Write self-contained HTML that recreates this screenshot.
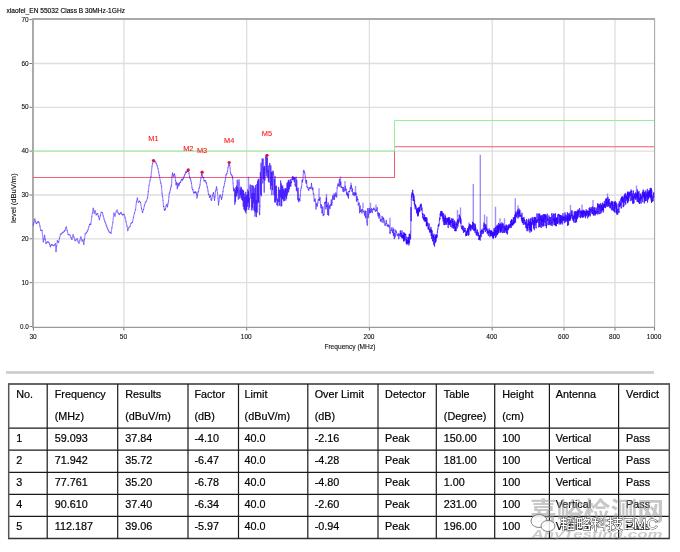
<!DOCTYPE html>
<html><head><meta charset="utf-8"><title>EMC Radiated Emission</title>
<style>html,body{margin:0;padding:0;background:#fff;}body{width:680px;height:552px;position:relative;overflow:hidden;}</style>
</head><body>
<svg width="680" height="552" viewBox="0 0 680 552" style="position:absolute;left:0;top:0">
<text x="6.5" y="12.6" font-size="7.7" fill="#000" stroke="#000" stroke-width="0.15" font-family="Liberation Sans, sans-serif" textLength="118.5" lengthAdjust="spacingAndGlyphs">xiaofei_EN 55032 Class B 30MHz-1GHz</text>
<line x1="33" y1="282.7" x2="654" y2="282.7" stroke="#dedede" stroke-width="1.3"/>
<line x1="33" y1="238.8" x2="654" y2="238.8" stroke="#dedede" stroke-width="1.3"/>
<line x1="33" y1="195.0" x2="654" y2="195.0" stroke="#dedede" stroke-width="1.3"/>
<line x1="33" y1="151.1" x2="654" y2="151.1" stroke="#dedede" stroke-width="1.3"/>
<line x1="33" y1="107.3" x2="654" y2="107.3" stroke="#dedede" stroke-width="1.3"/>
<line x1="33" y1="63.5" x2="654" y2="63.5" stroke="#dedede" stroke-width="1.3"/>
<line x1="123.9" y1="19" x2="123.9" y2="327" stroke="#dedede" stroke-width="1.3"/>
<line x1="246.7" y1="19" x2="246.7" y2="327" stroke="#dedede" stroke-width="1.3"/>
<line x1="369.4" y1="19" x2="369.4" y2="327" stroke="#dedede" stroke-width="1.3"/>
<line x1="492.2" y1="19" x2="492.2" y2="327" stroke="#dedede" stroke-width="1.3"/>
<line x1="564.0" y1="19" x2="564.0" y2="327" stroke="#dedede" stroke-width="1.3"/>
<line x1="615.0" y1="19" x2="615.0" y2="327" stroke="#dedede" stroke-width="1.3"/>
<line x1="32.5" y1="19.1" x2="655" y2="19.1" stroke="#8c8c8c" stroke-width="1.5"/>
<line x1="654.6" y1="19" x2="654.6" y2="327.5" stroke="#a8a8a8" stroke-width="1.1"/>
<line x1="33" y1="18.5" x2="33" y2="328" stroke="#9c9c9c" stroke-width="1.7"/>
<line x1="32" y1="327.4" x2="655" y2="327.4" stroke="#9a9a9a" stroke-width="1.1"/>
<line x1="29.5" y1="19.6" x2="32" y2="19.6" stroke="#777" stroke-width="1"/>
<text x="21.5" y="21.6" font-size="7.7" fill="#111" stroke="#111" stroke-width="0.12" font-family="Liberation Sans, sans-serif" textLength="7.2" lengthAdjust="spacingAndGlyphs">70</text>
<line x1="29.5" y1="63.5" x2="32" y2="63.5" stroke="#777" stroke-width="1"/>
<text x="21.5" y="65.5" font-size="7.7" fill="#111" stroke="#111" stroke-width="0.12" font-family="Liberation Sans, sans-serif" textLength="7.2" lengthAdjust="spacingAndGlyphs">60</text>
<line x1="29.5" y1="107.3" x2="32" y2="107.3" stroke="#777" stroke-width="1"/>
<text x="21.5" y="109.3" font-size="7.7" fill="#111" stroke="#111" stroke-width="0.12" font-family="Liberation Sans, sans-serif" textLength="7.2" lengthAdjust="spacingAndGlyphs">50</text>
<line x1="29.5" y1="151.1" x2="32" y2="151.1" stroke="#777" stroke-width="1"/>
<text x="21.5" y="153.1" font-size="7.7" fill="#111" stroke="#111" stroke-width="0.12" font-family="Liberation Sans, sans-serif" textLength="7.2" lengthAdjust="spacingAndGlyphs">40</text>
<line x1="29.5" y1="195.0" x2="32" y2="195.0" stroke="#777" stroke-width="1"/>
<text x="21.5" y="197.0" font-size="7.7" fill="#111" stroke="#111" stroke-width="0.12" font-family="Liberation Sans, sans-serif" textLength="7.2" lengthAdjust="spacingAndGlyphs">30</text>
<line x1="29.5" y1="238.8" x2="32" y2="238.8" stroke="#777" stroke-width="1"/>
<text x="21.5" y="240.8" font-size="7.7" fill="#111" stroke="#111" stroke-width="0.12" font-family="Liberation Sans, sans-serif" textLength="7.2" lengthAdjust="spacingAndGlyphs">20</text>
<line x1="29.5" y1="282.7" x2="32" y2="282.7" stroke="#777" stroke-width="1"/>
<text x="21.5" y="284.7" font-size="7.7" fill="#111" stroke="#111" stroke-width="0.12" font-family="Liberation Sans, sans-serif" textLength="7.2" lengthAdjust="spacingAndGlyphs">10</text>
<line x1="29.5" y1="326.5" x2="32" y2="326.5" stroke="#777" stroke-width="1"/>
<text x="19.9" y="328.5" font-size="7.7" fill="#111" stroke="#111" stroke-width="0.12" font-family="Liberation Sans, sans-serif" textLength="8.8" lengthAdjust="spacingAndGlyphs">0.0</text>
<line x1="33.4" y1="328" x2="33.4" y2="330.5" stroke="#777" stroke-width="1"/>
<text x="29.4" y="338.7" font-size="7.7" fill="#111" stroke="#111" stroke-width="0.12" font-family="Liberation Sans, sans-serif" textLength="7.3" lengthAdjust="spacingAndGlyphs">30</text>
<line x1="123.9" y1="328" x2="123.9" y2="330.5" stroke="#777" stroke-width="1"/>
<text x="119.8" y="338.7" font-size="7.7" fill="#111" stroke="#111" stroke-width="0.12" font-family="Liberation Sans, sans-serif" textLength="7.3" lengthAdjust="spacingAndGlyphs">50</text>
<line x1="246.7" y1="328" x2="246.7" y2="330.5" stroke="#777" stroke-width="1"/>
<text x="240.8" y="338.7" font-size="7.7" fill="#111" stroke="#111" stroke-width="0.12" font-family="Liberation Sans, sans-serif" textLength="10.9" lengthAdjust="spacingAndGlyphs">100</text>
<line x1="369.4" y1="328" x2="369.4" y2="330.5" stroke="#777" stroke-width="1"/>
<text x="363.6" y="338.7" font-size="7.7" fill="#111" stroke="#111" stroke-width="0.12" font-family="Liberation Sans, sans-serif" textLength="10.9" lengthAdjust="spacingAndGlyphs">200</text>
<line x1="492.2" y1="328" x2="492.2" y2="330.5" stroke="#777" stroke-width="1"/>
<text x="486.3" y="338.7" font-size="7.7" fill="#111" stroke="#111" stroke-width="0.12" font-family="Liberation Sans, sans-serif" textLength="10.9" lengthAdjust="spacingAndGlyphs">400</text>
<line x1="564.0" y1="328" x2="564.0" y2="330.5" stroke="#777" stroke-width="1"/>
<text x="558.1" y="338.7" font-size="7.7" fill="#111" stroke="#111" stroke-width="0.12" font-family="Liberation Sans, sans-serif" textLength="10.9" lengthAdjust="spacingAndGlyphs">600</text>
<line x1="615.0" y1="328" x2="615.0" y2="330.5" stroke="#777" stroke-width="1"/>
<text x="609.1" y="338.7" font-size="7.7" fill="#111" stroke="#111" stroke-width="0.12" font-family="Liberation Sans, sans-serif" textLength="10.9" lengthAdjust="spacingAndGlyphs">800</text>
<line x1="654.5" y1="328" x2="654.5" y2="330.5" stroke="#777" stroke-width="1"/>
<text x="646.8" y="338.7" font-size="7.7" fill="#111" stroke="#111" stroke-width="0.12" font-family="Liberation Sans, sans-serif" textLength="14.6" lengthAdjust="spacingAndGlyphs">1000</text>
<text x="324.4" y="349.4" font-size="7.5" fill="#111" stroke="#111" stroke-width="0.12" font-family="Liberation Sans, sans-serif" textLength="51" lengthAdjust="spacingAndGlyphs">Frequency (MHz)</text>
<text transform="translate(16.4,223) rotate(-90)" x="0" y="0" font-size="7.5" fill="#111" stroke="#111" stroke-width="0.12" font-family="Liberation Sans, sans-serif" textLength="49.7" lengthAdjust="spacingAndGlyphs">level (dBuV/m)</text>
<polyline points="33,177.4 394.5,177.4 394.5,146.8 654,146.8" fill="none" stroke="#f45c78" stroke-width="1.05"/>
<polyline points="33,151.1 394.5,151.1 394.5,120.5 654,120.5" fill="none" stroke="#94f094" stroke-width="1.0"/>
<path d="M33.20,225.5L34.00,222.2M39.10,222.7L39.95,226.2M45.25,239.3L45.90,243.4M50.95,245.4L51.60,244.4M57.30,240.7L57.95,241.8M63.60,232.0L64.25,231.2M70.00,235.3L70.95,237.4M78.00,241.2L79.00,243.2M85.20,233.9L85.95,233.1M90.80,224.4L91.80,216.5M97.60,213.5L98.50,216.5M104.82,221.5L105.55,223.0M111.00,233.4L111.90,227.8M118.75,213.7L119.50,214.5M125.00,217.5L126.00,221.7M132.50,222.1L133.50,217.2M140.50,202.4L141.50,208.4M148.30,191.6L149.00,185.5M155.00,161.4L155.75,162.2M161.00,183.5L161.50,186.4M164.70,210.2L165.10,209.6M168.50,201.4L168.90,197.0M172.00,176.3L172.50,172.8M176.00,184.8L176.50,182.3M179.15,184.7L179.50,183.5M182.50,180.2L183.00,178.9M186.50,172.6L187.00,170.9M190.50,179.1L191.00,181.2M194.50,192.5L195.00,191.7M198.50,191.4L199.00,188.3M202.15,174.9L202.50,176.2M206.00,182.8L206.50,182.9M210.00,196.3L210.50,195.4M214.00,196.7L214.50,200.4M218.00,198.5L218.50,205.0M222.00,197.7L222.50,194.8M226.00,175.2L226.50,174.2M229.63,165.4L230.07,168.0" fill="none" stroke="#3000ff" stroke-opacity="0.46" stroke-width="1.15" stroke-linecap="round"/>
<path d="M34.00,222.2L34.80,219.0M39.95,226.2L40.80,230.4M45.90,243.4L46.50,243.0M51.60,244.4L52.55,244.9M57.95,241.8L58.60,242.4M64.25,231.2L64.90,230.5M70.95,237.4L71.90,239.4M79.00,243.2L79.95,240.2M85.95,233.1L86.70,232.3M91.80,216.5L92.50,212.5M98.50,216.5L99.40,219.7M105.55,223.0L106.28,225.2M111.90,227.8L112.80,222.5M119.50,214.5L120.25,213.4M126.00,221.7L127.00,226.1M133.50,217.2L134.50,212.9M141.50,208.4L142.50,212.5M149.00,185.5L150.00,180.7M155.75,162.2L156.50,163.7M161.50,186.4L162.00,193.1M165.10,209.6L165.50,208.8M168.90,197.0L169.30,193.4M172.50,172.8L173.00,175.1M176.50,182.3L176.90,184.2M179.50,183.5L179.90,182.5M183.00,178.9L183.50,178.3M187.00,170.9L187.50,171.3M191.00,181.2L191.50,183.4M195.00,191.7L195.50,192.7M199.00,188.3L199.50,187.2M202.50,176.2L203.00,177.5M206.50,182.9L207.00,186.4M210.50,195.4L211.00,199.7M214.50,200.4L215.00,196.9M218.50,205.0L219.00,201.0M222.50,194.8L223.00,191.3M226.50,174.2L227.00,173.4M230.07,168.0L230.50,172.6" fill="none" stroke="#3000ff" stroke-opacity="0.46" stroke-width="1.15" stroke-linecap="round"/>
<path d="M34.80,219.0L35.55,221.7M40.80,230.4L41.45,230.3M46.50,243.0L47.10,242.1M52.55,244.9L53.50,245.7M58.60,242.4L59.55,238.2M64.90,230.5L65.55,228.9M71.90,239.4L73.10,234.7M79.95,240.2L80.90,236.9M86.70,232.3L87.40,231.1M92.50,212.5L93.20,208.2M99.40,219.7L100.30,215.7M106.28,225.2L107.00,227.2M112.80,222.5L113.90,213.1M120.25,213.4L121.00,212.4M127.00,226.1L127.80,230.6M134.50,212.9L135.50,209.6M142.50,212.5L143.50,209.5M150.00,180.7L151.00,176.4M156.50,163.7L157.25,165.9M162.00,193.1L162.50,196.4M165.50,208.8L166.00,206.0M169.30,193.4L169.80,192.2M173.00,175.1L173.50,176.3M176.90,184.2L177.30,188.7M179.90,182.5L180.30,182.5M183.50,178.3L184.00,176.8M187.50,171.3L188.00,171.0M191.50,183.4L192.00,187.6M195.50,192.7L196.00,192.1M199.50,187.2L200.00,184.8M203.00,177.5L203.50,177.6M207.00,186.4L207.50,187.6M211.00,199.7L211.50,200.3M215.00,196.9L215.50,191.1M219.00,201.0L219.50,196.9M223.00,191.3L223.50,187.5M227.00,173.4L227.50,171.3M230.50,172.6L231.00,174.3" fill="none" stroke="#3000ff" stroke-opacity="0.46" stroke-width="1.15" stroke-linecap="round"/>
<path d="M35.55,221.7L36.30,223.7M41.45,230.3L42.10,230.6M47.10,242.1L47.95,241.9M53.50,245.7L54.45,245.1M59.55,238.2L60.50,234.2M65.55,228.9L66.20,226.9M73.10,234.7L74.05,237.3M80.90,236.9L82.10,241.1M87.40,231.1L88.10,229.7M93.20,208.2L94.20,213.3M100.30,215.7L101.20,212.2M107.00,227.2L107.73,228.9M113.90,213.1L115.00,216.2M121.00,212.4L121.75,214.0M127.80,230.6L128.80,227.7M135.50,209.6L136.50,201.6M143.50,209.5L144.50,205.3M151.00,176.4L152.00,166.4M157.25,165.9L158.00,168.6M162.50,196.4L163.00,200.3M166.00,206.0L166.50,204.7M169.80,192.2L170.30,190.0M173.50,176.3L174.00,174.7M177.30,188.7L177.65,186.2M180.30,182.5L180.65,182.1M184.00,176.8L184.50,175.3M188.00,171.0L188.50,171.4M192.00,187.6L192.50,189.5M196.00,192.1L196.50,193.6M200.00,184.8L200.50,180.5M203.50,177.6L204.00,181.0M207.50,187.6L208.00,190.9M211.50,200.3L212.00,198.0M215.50,191.1L216.00,190.0M219.50,196.9L220.00,195.2M223.50,187.5L224.00,186.5M227.50,171.3L228.00,167.7M231.00,174.3L231.50,175.0" fill="none" stroke="#3000ff" stroke-opacity="0.46" stroke-width="1.15" stroke-linecap="round"/>
<path d="M36.30,223.7L37.10,222.9M42.10,230.6L43.30,241.9M47.95,241.9L48.80,242.3M54.45,245.1L55.40,243.7M60.50,234.2L61.27,233.9M66.20,226.9L67.15,230.4M74.05,237.3L75.00,240.7M82.10,241.1L83.10,239.9M88.10,229.7L88.85,226.8M94.20,213.3L95.10,210.5M101.20,212.2L102.30,212.5M107.73,228.9L108.47,230.4M115.00,216.2L116.00,211.8M121.75,214.0L122.50,214.9M128.80,227.7L130.00,226.5M136.50,201.6L137.30,198.0M144.50,205.3L145.50,202.3M152.00,166.4L152.65,163.5M158.00,168.6L158.65,172.2M163.00,200.3L163.50,206.2M166.50,204.7L167.00,204.7M170.30,190.0L170.70,188.2M174.00,174.7L174.50,173.9M177.65,186.2L178.00,183.4M180.65,182.1L181.00,180.9M184.50,175.3L185.00,174.2M188.50,171.4L189.00,173.2M192.50,189.5L193.00,190.0M196.50,193.6L197.00,197.9M200.50,180.5L201.00,178.0M204.00,181.0L204.50,180.9M208.00,190.9L208.50,194.1M212.00,198.0L212.50,195.5M216.00,190.0L216.50,186.9M220.00,195.2L220.50,195.2M224.00,186.5L224.50,183.6M228.00,167.7L228.50,165.8M231.50,175.0L232.00,175.8" fill="none" stroke="#3000ff" stroke-opacity="0.46" stroke-width="1.15" stroke-linecap="round"/>
<path d="M37.10,222.9L37.90,221.6M43.30,241.9L43.95,239.1M48.80,242.3L49.55,243.9M55.40,243.7L56.00,251.6M61.27,233.9L62.05,233.1M67.15,230.4L68.10,234.5M75.00,240.7L76.00,240.0M83.10,239.9L83.80,244.5M88.85,226.8L89.60,224.4M95.10,210.5L96.10,215.0M102.30,212.5L103.20,215.9M108.47,230.4L109.20,231.9M116.00,211.8L117.10,210.1M122.50,214.9L123.25,214.5M130.00,226.5L131.00,223.4M137.30,198.0L138.30,202.3M145.50,202.3L146.50,201.2M152.65,163.5L153.30,160.2M158.65,172.2L159.30,175.4M163.50,206.2L163.90,206.5M167.00,204.7L167.50,206.8M170.70,188.2L171.10,186.6M174.50,173.9L175.00,176.1M178.00,183.4L178.40,184.0M181.00,180.9L181.50,179.4M185.00,174.2L185.50,172.9M189.00,173.2L189.50,176.8M193.00,190.0L193.50,192.3M197.00,197.9L197.50,194.8M201.00,178.0L201.40,175.0M204.50,180.9L205.00,180.7M208.50,194.1L209.00,194.5M212.50,195.5L213.00,194.1M216.50,186.9L217.00,189.3M220.50,195.2L221.00,197.2M224.50,183.6L225.00,181.4M228.50,165.8L228.85,164.7" fill="none" stroke="#3000ff" stroke-opacity="0.46" stroke-width="1.15" stroke-linecap="round"/>
<path d="M37.90,221.6L38.50,221.9M43.95,239.1L44.60,235.4M49.55,243.9L50.30,246.8M56.00,251.6L56.65,246.2M62.05,233.1L62.83,232.4M68.10,234.5L69.05,234.7M76.00,240.0L77.00,238.7M83.80,244.5L84.50,239.3M89.60,224.4L90.20,224.0M96.10,215.0L96.85,213.9M103.20,215.9L104.10,219.2M109.20,231.9L110.10,232.4M117.10,210.1L118.00,212.8M123.25,214.5L124.00,214.2M131.00,223.4L131.75,222.8M138.30,202.3L139.50,201.1M146.50,201.2L147.50,197.9M153.30,160.2L154.30,161.9M159.30,175.4L160.50,182.0M163.90,206.5L164.30,209.4M167.50,206.8L168.00,203.5M171.10,186.6L171.50,185.1M175.00,176.1L175.50,180.5M178.40,184.0L178.80,185.8M181.50,179.4L182.00,179.3M185.50,172.9L186.00,171.6M189.50,176.8L190.00,178.4M193.50,192.3L194.00,193.2M197.50,194.8L198.00,192.2M201.40,175.0L201.80,171.8M205.00,180.7L205.50,180.6M209.00,194.5L209.50,197.4M213.00,194.1L213.50,192.6M217.00,189.3L217.50,192.8M221.00,197.2L221.50,199.4M225.00,181.4L225.50,178.8M228.85,164.7L229.20,161.9" fill="none" stroke="#3000ff" stroke-opacity="0.46" stroke-width="1.15" stroke-linecap="round"/>
<path d="M38.50,221.9L39.10,222.7M44.60,235.4L45.25,239.3M50.30,246.8L50.95,245.4M56.65,246.2L57.30,240.7M62.83,232.4L63.60,232.0M69.05,234.7L70.00,235.3M77.00,238.7L78.00,241.2M84.50,239.3L85.20,233.9M90.20,224.0L90.80,224.4M96.85,213.9L97.60,213.5M104.10,219.2L104.82,221.5M110.10,232.4L111.00,233.4M118.00,212.8L118.75,213.7M124.00,214.2L125.00,217.5M131.75,222.8L132.50,222.1M139.50,201.1L140.50,202.4M147.50,197.9L148.30,191.6M154.30,161.9L155.00,161.4M160.50,182.0L161.00,183.5M164.30,209.4L164.70,210.2M168.00,203.5L168.50,201.4M171.50,185.1L172.00,176.3M175.50,180.5L176.00,184.8M178.80,185.8L179.15,184.7M182.00,179.3L182.50,180.2M186.00,171.6L186.50,172.6M190.00,178.4L190.50,179.1M194.00,193.2L194.50,192.5M198.00,192.2L198.50,191.4M201.80,171.8L202.15,174.9M205.50,180.6L206.00,182.8M209.50,197.4L210.00,196.3M213.50,192.6L214.00,196.7M217.50,192.8L218.00,198.5M221.50,199.4L222.00,197.7M225.50,178.8L226.00,175.2M229.20,161.9L229.63,165.4" fill="none" stroke="#3000ff" stroke-opacity="0.46" stroke-width="1.15" stroke-linecap="round"/>
<path d="M233.05,183.3L233.40,187.6M235.85,187.5L236.20,196.2M238.65,182.8L239.00,179.7M241.45,187.9L241.80,199.5M244.25,193.7L244.60,210.0M247.05,195.0L247.40,206.2M249.85,187.2L250.20,184.7M252.65,185.5L253.00,209.7M255.45,185.6L255.80,212.1M258.25,179.2L258.60,202.0M261.05,163.0L261.40,195.8M263.85,167.4L264.20,192.2M266.65,156.3L267.00,172.2M269.45,164.9L269.80,163.4M272.25,172.1L272.60,189.7M275.05,176.3L275.40,201.9M277.85,205.7L278.20,200.9M280.65,180.9L281.00,206.0M283.45,189.2L283.80,200.9M286.25,188.7L286.60,198.2M289.05,180.4L289.40,188.8M291.85,178.8L292.20,179.7M294.65,177.5L295.00,184.6M297.45,189.9L297.80,199.7M300.25,195.6L300.70,190.2M303.85,170.3L304.30,172.1M307.45,187.3L307.90,187.6M311.05,187.4L311.50,183.4M314.65,200.1L315.10,198.8M318.25,199.7L318.70,200.1M321.85,212.3L322.30,213.1M325.45,202.1L325.90,208.9M329.05,206.9L329.50,205.8M332.65,195.9L333.10,199.4M336.25,194.8L336.70,197.0M339.85,186.5L340.30,185.0M343.45,187.5L343.90,191.6M347.05,192.1L347.50,196.0M350.65,188.7L351.10,185.2M354.25,195.8L354.70,192.5M357.85,199.0L358.30,205.1M361.45,210.1L361.90,213.2M365.05,210.7L365.50,217.8M368.65,214.3L369.10,208.3M372.25,212.7L372.70,209.4M375.85,210.3L376.30,210.8M379.45,213.6L379.90,215.7M383.05,222.6L383.50,217.7M386.65,223.3L387.10,225.7M390.25,233.4L390.70,230.3M393.85,229.4L394.30,238.6M397.45,234.9L397.90,235.8" fill="none" stroke="#3000ff" stroke-opacity="0.52" stroke-width="1.1" stroke-linecap="round"/>
<path d="M233.40,187.6L233.75,191.0M236.20,196.2L236.55,186.0M239.00,179.7L239.35,184.0M241.80,199.5L242.15,189.6M244.60,210.0L244.95,197.2M247.40,206.2L247.75,189.8M250.20,184.7L250.55,190.2M253.00,209.7L253.35,186.3M255.80,212.1L256.15,200.2M258.60,202.0L258.95,179.4M261.40,195.8L261.75,170.8M264.20,192.2L264.55,166.2M267.00,172.2L267.35,157.9M269.80,163.4L270.15,165.7M272.60,189.7L272.95,171.0M275.40,201.9L275.75,186.4M278.20,200.9L278.55,187.3M281.00,206.0L281.35,183.7M283.80,200.9L284.15,190.7M286.60,198.2L286.95,183.5M289.40,188.8L289.75,182.2M292.20,179.7L292.55,176.6M295.00,184.6L295.35,186.1M297.80,199.7L298.15,188.1M300.70,190.2L301.15,188.1M304.30,172.1L304.75,172.9M307.90,187.6L308.35,189.5M311.50,183.4L311.95,188.2M315.10,198.8L315.55,201.3M318.70,200.1L319.15,199.2M322.30,213.1L322.75,206.8M325.90,208.9L326.35,197.9M329.50,205.8L329.95,208.5M333.10,199.4L333.55,197.9M336.70,197.0L337.15,187.9M340.30,185.0L340.75,181.7M343.90,191.6L344.35,190.1M347.50,196.0L347.95,193.6M351.10,185.2L351.55,186.2M354.70,192.5L355.15,193.5M358.30,205.1L358.75,204.1M361.90,213.2L362.35,209.2M365.50,217.8L365.95,211.4M369.10,208.3L369.55,212.9M372.70,209.4L373.15,209.6M376.30,210.8L376.75,209.9M379.90,215.7L380.35,220.7M383.50,217.7L383.95,219.6M387.10,225.7L387.55,225.0M390.70,230.3L391.15,227.8M394.30,238.6L394.75,233.3M397.90,235.8L398.35,233.5" fill="none" stroke="#3000ff" stroke-opacity="0.52" stroke-width="1.1" stroke-linecap="round"/>
<path d="M233.75,191.0L234.10,188.8M236.55,186.0L236.90,195.1M239.35,184.0L239.70,198.1M242.15,189.6L242.50,200.3M244.95,197.2L245.30,211.2M247.75,189.8L248.10,202.6M250.55,190.2L250.90,198.3M253.35,186.3L253.70,202.7M256.15,200.2L256.50,216.6M258.95,179.4L259.30,212.8M261.75,170.8L262.10,158.8M264.55,166.2L264.90,180.1M267.35,157.9L267.70,176.6M270.15,165.7L270.50,189.2M272.95,171.0L273.30,172.0M275.75,186.4L276.10,199.9M278.55,187.3L278.90,201.4M281.35,183.7L281.70,205.7M284.15,190.7L284.50,200.4M286.95,183.5L287.30,195.0M289.75,182.2L290.10,186.0M292.55,176.6L292.90,179.5M295.35,186.1L295.70,178.5M298.15,188.1L298.50,201.3M301.15,188.1L301.60,186.8M304.75,172.9L305.20,176.3M308.35,189.5L308.80,190.3M311.95,188.2L312.40,189.8M315.55,201.3L316.00,208.9M319.15,199.2L319.60,200.2M322.75,206.8L323.20,215.6M326.35,197.9L326.80,206.6M329.95,208.5L330.40,204.6M333.55,197.9L334.00,193.9M337.15,187.9L337.60,185.7M340.75,181.7L341.20,187.5M344.35,190.1L344.80,188.8M347.95,193.6L348.40,198.1M351.55,186.2L352.00,191.5M355.15,193.5L355.60,194.9M358.75,204.1L359.20,203.1M362.35,209.2L362.80,209.6M365.95,211.4L366.40,216.3M369.55,212.9L370.00,209.9M373.15,209.6L373.60,208.6M376.75,209.9L377.20,207.5M380.35,220.7L380.80,219.8M383.95,219.6L384.40,221.7M387.55,225.0L388.00,226.8M391.15,227.8L391.60,230.2M394.75,233.3L395.20,237.0M398.35,233.5L398.80,238.7" fill="none" stroke="#3000ff" stroke-opacity="0.52" stroke-width="1.1" stroke-linecap="round"/>
<path d="M234.10,188.8L234.45,189.4M236.90,195.1L237.25,180.0M239.70,198.1L240.05,189.9M242.50,200.3L242.85,190.3M245.30,211.2L245.65,192.2M248.10,202.6L248.45,191.7M250.90,198.3L251.25,185.6M253.70,202.7L254.05,193.2M256.50,216.6L256.85,184.2M259.30,212.8L259.65,214.7M262.10,158.8L262.45,160.9M264.90,180.1L265.25,169.2M267.70,176.6L268.05,170.5M270.50,189.2L270.85,165.7M273.30,172.0L273.65,174.3M276.10,199.9L276.45,186.1M278.90,201.4L279.25,190.0M281.70,205.7L282.05,186.9M284.50,200.4L284.85,188.6M287.30,195.0L287.65,182.6M290.10,186.0L290.45,179.6M292.90,179.5L293.25,176.9M295.70,178.5L296.05,177.0M298.50,201.3L298.85,201.8M301.60,186.8L302.05,180.3M305.20,176.3L305.65,181.0M308.80,190.3L309.25,187.9M312.40,189.8L312.85,187.9M316.00,208.9L316.45,203.6M319.60,200.2L320.05,197.5M323.20,215.6L323.65,214.8M326.80,206.6L327.25,205.0M330.40,204.6L330.85,205.6M334.00,193.9L334.45,199.4M337.60,185.7L338.05,183.9M341.20,187.5L341.65,186.8M344.80,188.8L345.25,186.3M348.40,198.1L348.85,191.4M352.00,191.5L352.45,188.9M355.60,194.9L356.05,193.1M359.20,203.1L359.65,212.8M362.80,209.6L363.25,211.5M366.40,216.3L366.85,221.7M370.00,209.9L370.45,212.5M373.60,208.6L374.05,208.1M377.20,207.5L377.65,213.6M380.80,219.8L381.25,221.7M384.40,221.7L384.85,225.1M388.00,226.8L388.45,225.1M391.60,230.2L392.05,230.5M395.20,237.0L395.65,230.1M398.80,238.7L399.25,234.3" fill="none" stroke="#3000ff" stroke-opacity="0.52" stroke-width="1.1" stroke-linecap="round"/>
<path d="M234.45,189.4L234.80,204.2M237.25,180.0L237.60,192.5M240.05,189.9L240.40,194.9M242.85,190.3L243.20,206.2M245.65,192.2L246.00,213.1M248.45,191.7L248.80,209.5M251.25,185.6L251.60,210.0M254.05,193.2L254.40,211.0M256.85,184.2L257.20,212.0M259.65,214.7L260.00,206.2M262.45,160.9L262.80,182.9M265.25,169.2L265.60,156.7M268.05,170.5L268.40,181.1M270.85,165.7L271.20,185.4M273.65,174.3L274.00,194.7M276.45,186.1L276.80,204.2M279.25,190.0L279.60,205.3M282.05,186.9L282.40,198.4M284.85,188.6L285.20,196.8M287.65,182.6L288.00,192.6M290.45,179.6L290.80,186.3M293.25,176.9L293.60,179.6M296.05,177.0L296.40,190.8M298.85,201.8L299.20,198.4M302.05,180.3L302.50,182.0M305.65,181.0L306.10,183.3M309.25,187.9L309.70,188.2M312.85,187.9L313.30,193.5M316.45,203.6L316.90,204.9M320.05,197.5L320.50,204.5M323.65,214.8L324.10,214.4M327.25,205.0L327.70,214.4M330.85,205.6L331.30,199.9M334.45,199.4L334.90,195.2M338.05,183.9L338.50,185.9M341.65,186.8L342.10,187.8M345.25,186.3L345.70,190.5M348.85,191.4L349.30,191.7M352.45,188.9L352.90,194.8M356.05,193.1L356.50,201.1M359.65,212.8L360.10,205.7M363.25,211.5L363.70,211.3M366.85,221.7L367.30,225.3M370.45,212.5L370.90,211.5M374.05,208.1L374.50,209.7M377.65,213.6L378.10,216.0M381.25,221.7L381.70,219.3M384.85,225.1L385.30,225.2M388.45,225.1L388.90,225.4M392.05,230.5L392.50,232.6M395.65,230.1L396.10,231.4M399.25,234.3L399.70,235.5" fill="none" stroke="#3000ff" stroke-opacity="0.52" stroke-width="1.1" stroke-linecap="round"/>
<path d="M232.00,175.8L232.35,176.2M234.80,204.2L235.15,190.3M237.60,192.5L237.95,187.9M240.40,194.9L240.75,187.0M243.20,206.2L243.55,190.8M246.00,213.1L246.35,195.0M248.80,209.5L249.15,198.2M251.60,210.0L251.95,193.6M254.40,211.0L254.75,188.4M257.20,212.0L257.55,181.4M260.00,206.2L260.35,172.5M262.80,182.9L263.15,158.9M265.60,156.7L265.95,157.0M268.40,181.1L268.75,166.0M271.20,185.4L271.55,172.4M274.00,194.7L274.35,179.6M276.80,204.2L277.15,204.7M279.60,205.3L279.95,190.4M282.40,198.4L282.75,185.7M285.20,196.8L285.55,188.8M288.00,192.6L288.35,180.3M290.80,186.3L291.15,181.7M293.60,179.6L293.95,177.7M296.40,190.8L296.75,180.1M299.20,198.4L299.55,199.3M302.50,182.0L302.95,179.7M306.10,183.3L306.55,180.3M309.70,188.2L310.15,188.0M313.30,193.5L313.75,194.2M316.90,204.9L317.35,206.1M320.50,204.5L320.95,207.9M324.10,214.4L324.55,202.5M327.70,214.4L328.15,202.8M331.30,199.9L331.75,205.2M334.90,195.2L335.35,196.1M338.50,185.9L338.95,184.6M342.10,187.8L342.55,187.8M345.70,190.5L346.15,189.0M349.30,191.7L349.75,190.9M352.90,194.8L353.35,192.7M356.50,201.1L356.95,196.2M360.10,205.7L360.55,211.4M363.70,211.3L364.15,212.7M367.30,225.3L367.75,208.5M370.90,211.5L371.35,208.6M374.50,209.7L374.95,209.9M378.10,216.0L378.55,212.9M381.70,219.3L382.15,216.3M385.30,225.2L385.75,223.6M388.90,225.4L389.35,226.3M392.50,232.6L392.95,227.8M396.10,231.4L396.55,232.2M399.70,235.5L400.15,233.3" fill="none" stroke="#3000ff" stroke-opacity="0.52" stroke-width="1.1" stroke-linecap="round"/>
<path d="M232.35,176.2L232.70,178.3M235.15,190.3L235.50,201.7M237.95,187.9L238.30,199.2M240.75,187.0L241.10,197.7M243.55,190.8L243.90,209.0M246.35,195.0L246.70,209.4M249.15,198.2L249.50,206.9M251.95,193.6L252.30,207.3M254.75,188.4L255.10,216.3M257.55,181.4L257.90,202.7M260.35,172.5L260.70,194.3M263.15,158.9L263.50,178.8M265.95,157.0L266.30,175.9M268.75,166.0L269.10,182.3M271.55,172.4L271.90,194.7M274.35,179.6L274.70,202.0M277.15,204.7L277.50,199.0M279.95,190.4L280.30,196.7M282.75,185.7L283.10,199.2M285.55,188.8L285.90,200.1M288.35,180.3L288.70,191.5M291.15,181.7L291.50,182.7M293.95,177.7L294.30,181.6M296.75,180.1L297.10,188.8M299.55,199.3L299.90,200.7M302.95,179.7L303.40,171.8M306.55,180.3L307.00,186.7M310.15,188.0L310.60,188.1M313.75,194.2L314.20,201.2M317.35,206.1L317.80,202.9M320.95,207.9L321.40,204.9M324.55,202.5L325.00,203.0M328.15,202.8L328.60,215.2M331.75,205.2L332.20,202.5M335.35,196.1L335.80,192.9M338.95,184.6L339.40,179.4M342.55,187.8L343.00,191.3M346.15,189.0L346.60,194.4M349.75,190.9L350.20,187.6M353.35,192.7L353.80,194.4M356.95,196.2L357.40,200.0M360.55,211.4L361.00,211.0M364.15,212.7L364.60,215.1M367.75,208.5L368.20,217.6M371.35,208.6L371.80,211.3M374.95,209.9L375.40,211.3M378.55,212.9L379.00,218.2M382.15,216.3L382.60,218.6M385.75,223.6L386.20,220.3M389.35,226.3L389.80,232.6M392.95,227.8L393.40,235.5M396.55,232.2L397.00,235.0" fill="none" stroke="#3000ff" stroke-opacity="0.52" stroke-width="1.1" stroke-linecap="round"/>
<path d="M232.70,178.3L233.05,183.3M235.50,201.7L235.85,187.5M238.30,199.2L238.65,182.8M241.10,197.7L241.45,187.9M243.90,209.0L244.25,193.7M246.70,209.4L247.05,195.0M249.50,206.9L249.85,187.2M252.30,207.3L252.65,185.5M255.10,216.3L255.45,185.6M257.90,202.7L258.25,179.2M260.70,194.3L261.05,163.0M263.50,178.8L263.85,167.4M266.30,175.9L266.65,156.3M269.10,182.3L269.45,164.9M271.90,194.7L272.25,172.1M274.70,202.0L275.05,176.3M277.50,199.0L277.85,205.7M280.30,196.7L280.65,180.9M283.10,199.2L283.45,189.2M285.90,200.1L286.25,188.7M288.70,191.5L289.05,180.4M291.50,182.7L291.85,178.8M294.30,181.6L294.65,177.5M297.10,188.8L297.45,189.9M299.90,200.7L300.25,195.6M303.40,171.8L303.85,170.3M307.00,186.7L307.45,187.3M310.60,188.1L311.05,187.4M314.20,201.2L314.65,200.1M317.80,202.9L318.25,199.7M321.40,204.9L321.85,212.3M325.00,203.0L325.45,202.1M328.60,215.2L329.05,206.9M332.20,202.5L332.65,195.9M335.80,192.9L336.25,194.8M339.40,179.4L339.85,186.5M343.00,191.3L343.45,187.5M346.60,194.4L347.05,192.1M350.20,187.6L350.65,188.7M353.80,194.4L354.25,195.8M357.40,200.0L357.85,199.0M361.00,211.0L361.45,210.1M364.60,215.1L365.05,210.7M368.20,217.6L368.65,214.3M371.80,211.3L372.25,212.7M375.40,211.3L375.85,210.3M379.00,218.2L379.45,213.6M382.60,218.6L383.05,222.6M386.20,220.3L386.65,223.3M389.80,232.6L390.25,233.4M393.40,235.5L393.85,229.4M397.00,235.0L397.45,234.9" fill="none" stroke="#3000ff" stroke-opacity="0.52" stroke-width="1.1" stroke-linecap="round"/>
<path d="M400.55,233.4L400.75,236.4M402.15,238.3L402.35,236.8M403.75,232.6L403.95,240.9M405.35,234.8L405.55,234.1M406.95,237.3L407.15,244.0M408.55,237.8L408.75,241.9M410.15,235.6L410.35,236.5M411.75,197.5L411.95,192.8M413.35,197.2L413.55,194.1M414.95,206.0L415.15,209.0M416.55,210.6L416.75,212.4M418.15,208.7L418.35,215.1M419.75,207.5L419.95,210.8M421.35,206.1L421.55,209.6M422.95,214.3L423.15,214.1M424.55,214.9L424.75,218.7M426.15,217.9L426.35,225.6M427.75,223.0L427.95,223.0M429.35,229.9L429.55,231.3M430.95,227.3L431.15,235.4M432.55,241.0L432.75,240.2M434.15,244.1L434.35,244.3M435.75,235.0L435.95,241.1M437.35,232.2L437.55,231.1M438.95,224.8L439.15,223.9M440.55,215.9L440.75,211.5M442.15,212.6L442.35,215.7M443.75,218.1L443.95,224.4M445.35,216.6L445.55,224.2M446.95,220.5L447.15,218.4M448.55,218.0L448.75,224.1M450.15,220.3L450.35,222.6M451.75,218.6L451.95,226.3M453.35,227.9L453.55,225.6M454.95,230.4L455.15,230.7M456.55,223.2L456.75,224.7M458.15,221.0L458.35,223.0M459.75,218.3L459.95,221.8M461.35,226.3L461.55,228.1M462.95,226.8L463.15,226.4M464.55,230.2L464.75,231.4M466.15,234.6L466.35,231.7M467.75,228.5L467.95,230.8M469.35,228.0L469.55,224.3M470.95,229.3L471.15,226.9M472.55,222.4L472.75,222.3M474.15,229.7L474.35,230.8M475.75,227.5L475.95,230.7M477.35,230.0L477.55,233.4M478.95,239.4L479.15,238.5M480.55,235.4L480.75,231.6M482.15,233.4L482.35,233.1M483.75,226.1L483.95,223.1M485.35,231.4L485.55,227.4M486.95,228.9L487.15,233.0M488.55,232.2L488.75,232.5M490.15,233.5L490.35,234.9M491.75,231.1L491.95,232.1M493.35,232.6L493.55,237.5M494.95,228.0L495.15,235.3M496.55,227.7L496.75,226.1M498.15,226.7L498.35,233.0M499.75,224.6L499.95,232.4M501.35,226.3L501.55,229.9M502.95,226.8L503.15,224.4M504.55,232.3L504.75,229.0M506.15,224.9L506.35,229.3M507.75,226.0L507.95,226.2M509.35,226.1L509.55,226.1M510.95,223.8L511.15,227.5M512.55,222.9L512.75,224.4M514.15,217.6L514.35,222.9M515.75,212.9L515.95,215.6M517.35,213.7L517.55,209.9M518.95,208.7L519.15,212.9M520.55,216.1L520.75,216.3M522.15,217.3L522.35,222.2M523.75,218.6L523.95,217.4M525.35,223.6L525.55,222.2M526.95,230.6L527.15,227.7M528.55,224.9L528.75,219.1M530.15,230.8L530.35,218.8M531.75,222.6L531.95,224.6M533.35,221.2L533.55,227.9M534.95,217.3L535.15,223.0M536.55,222.6L536.75,221.2M538.15,214.0L538.35,216.2M539.75,214.4L539.95,215.2M541.35,215.6L541.55,225.0M542.95,214.8L543.15,221.4M544.55,214.5L544.75,221.3M546.15,215.9L546.35,227.8M547.75,218.0L547.95,223.2M549.35,221.9L549.55,224.1M550.95,217.3L551.15,222.6M552.55,222.5L552.75,219.0M554.15,218.6L554.35,220.7M555.75,220.5L555.95,225.8M557.35,218.8L557.55,223.5M558.95,215.2L559.15,224.1M560.55,215.4L560.75,224.0M562.15,220.6L562.35,223.9M563.75,218.1L563.95,220.4M565.35,216.9L565.55,221.7M566.95,216.3L567.15,218.8M568.55,224.7L568.75,218.6M570.15,218.6L570.35,220.2M571.75,216.0L571.95,214.8M573.35,220.3L573.55,216.3M574.95,213.8L575.15,222.4M576.55,221.5L576.75,212.4M578.15,211.0L578.35,215.2M579.75,210.1L579.95,212.9M581.35,211.2L581.55,214.2M582.95,210.3L583.15,216.9M584.55,211.3L584.75,215.4M586.15,209.5L586.35,215.1M587.75,218.0L587.95,216.2M589.35,211.8L589.55,214.4M590.95,211.4L591.15,209.8M592.55,210.3L592.75,213.5M594.15,212.0L594.35,214.9M595.75,213.7L595.95,208.0M597.35,211.3L597.55,203.6M598.95,213.6L599.15,209.6M600.55,207.3L600.75,203.3M602.15,208.6L602.35,208.8M603.75,204.2L603.95,207.5M605.35,204.6L605.55,207.6M606.95,202.8L607.15,203.1M608.55,200.1L608.75,206.0M610.15,203.1L610.35,208.0M611.75,209.0L611.95,210.0M613.35,210.8L613.55,209.0M614.95,212.2L615.15,201.3M616.55,205.2L616.75,214.2M618.15,203.9L618.35,209.3M619.75,206.5L619.95,204.0M621.35,207.8L621.55,197.6M622.95,199.1L623.15,206.7M624.55,194.5L624.75,202.3M626.15,195.0L626.35,197.6M627.75,192.0L627.95,202.1M629.35,192.2L629.55,195.1M630.95,199.8L631.15,198.7M632.55,203.2L632.75,201.7M634.15,197.5L634.35,196.4M635.75,194.2L635.95,199.3M637.35,189.7L637.55,198.0M638.95,191.4L639.15,202.6M640.55,195.8L640.75,197.0M642.15,196.1L642.35,192.4M643.75,190.9L643.95,195.4M645.35,196.5L645.55,200.6M646.95,192.6L647.15,195.5M648.55,192.7L648.75,197.9M650.15,188.4L650.35,197.8M651.75,190.4L651.95,197.2M653.35,195.5L653.55,193.2" fill="none" stroke="#3000ff" stroke-opacity="0.62" stroke-width="1.1" stroke-linecap="round"/>
<path d="M400.75,236.4L400.95,233.2M402.35,236.8L402.55,235.3M403.95,240.9L404.15,233.2M405.55,234.1L405.75,234.3M407.15,244.0L407.35,241.1M408.75,241.9L408.95,244.9M410.35,236.5L410.55,238.9M411.95,192.8L412.15,195.5M413.55,194.1L413.75,200.5M415.15,209.0L415.35,204.6M416.75,212.4L416.95,209.1M418.35,215.1L418.55,212.2M419.95,210.8L420.15,205.8M421.55,209.6L421.75,208.4M423.15,214.1L423.35,218.2M424.75,218.7L424.95,218.4M426.35,225.6L426.55,220.1M427.95,223.0L428.15,229.1M429.55,231.3L429.75,232.1M431.15,235.4L431.35,229.8M432.75,240.2L432.95,235.0M434.35,244.3L434.55,246.1M435.95,241.1L436.15,236.9M437.55,231.1L437.75,229.7M439.15,223.9L439.35,220.3M440.75,211.5L440.95,212.1M442.35,215.7L442.55,213.9M443.95,224.4L444.15,218.3M445.55,224.2L445.75,218.8M447.15,218.4L447.35,221.7M448.75,224.1L448.95,217.5M450.35,222.6L450.55,220.9M451.95,226.3L452.15,227.6M453.55,225.6L453.75,223.8M455.15,230.7L455.35,227.0M456.75,224.7L456.95,224.5M458.35,223.0L458.55,222.3M459.95,221.8L460.15,221.7M461.55,228.1L461.75,228.6M463.15,226.4L463.35,230.2M464.75,231.4L464.95,228.3M466.35,231.7L466.55,235.5M467.95,230.8L468.15,228.5M469.55,224.3L469.75,226.1M471.15,226.9L471.35,227.6M472.75,222.3L472.95,228.6M474.35,230.8L474.55,224.9M475.95,230.7L476.15,234.2M477.55,233.4L477.75,235.5M479.15,238.5L479.35,235.5M480.75,231.6L480.95,231.4M482.35,233.1L482.55,231.0M483.95,223.1L484.15,228.4M485.55,227.4L485.75,225.3M487.15,233.0L487.35,231.6M488.75,232.5L488.95,231.2M490.35,234.9L490.55,230.8M491.95,232.1L492.15,235.6M493.55,237.5L493.75,233.7M495.15,235.3L495.35,237.4M496.75,226.1L496.95,227.1M498.35,233.0L498.55,223.4M499.95,232.4L500.15,223.8M501.55,229.9L501.75,222.8M503.15,224.4L503.35,227.5M504.75,229.0L504.95,225.9M506.35,229.3L506.55,232.9M507.95,226.2L508.15,227.6M509.55,226.1L509.75,224.4M511.15,227.5L511.35,220.0M512.75,224.4L512.95,220.3M514.35,222.9L514.55,221.4M515.95,215.6L516.15,211.7M517.55,209.9L517.75,213.0M519.15,212.9L519.35,210.8M520.75,216.3L520.95,215.2M522.35,222.2L522.55,218.4M523.95,217.4L524.15,219.8M525.55,222.2L525.75,224.1M527.15,227.7L527.35,223.7M528.75,219.1L528.95,220.5M530.35,218.8L530.55,227.0M531.95,224.6L532.15,217.5M533.55,227.9L533.75,222.7M535.15,223.0L535.35,221.2M536.75,221.2L536.95,213.7M538.35,216.2L538.55,220.3M539.95,215.2L540.15,226.4M541.55,225.0L541.75,219.4M543.15,221.4L543.35,218.8M544.75,221.3L544.95,222.2M546.35,227.8L546.55,225.7M547.95,223.2L548.15,224.6M549.55,224.1L549.75,217.3M551.15,222.6L551.35,225.0M552.75,219.0L552.95,215.3M554.35,220.7L554.55,218.8M555.95,225.8L556.15,218.0M557.55,223.5L557.75,215.4M559.15,224.1L559.35,216.7M560.75,224.0L560.95,215.5M562.35,223.9L562.55,217.0M563.95,220.4L564.15,218.3M565.55,221.7L565.75,215.1M567.15,218.8L567.35,212.6M568.75,218.6L568.95,214.2M570.35,220.2L570.55,215.2M571.95,214.8L572.15,210.9M573.55,216.3L573.75,222.0M575.15,222.4L575.35,211.6M576.75,212.4L576.95,218.6M578.35,215.2L578.55,210.9M579.95,212.9L580.15,211.2M581.55,214.2L581.75,212.1M583.15,216.9L583.35,211.2M584.75,215.4L584.95,213.7M586.35,215.1L586.55,212.4M587.95,216.2L588.15,212.0M589.55,214.4L589.75,209.2M591.15,209.8L591.35,207.8M592.75,213.5L592.95,209.8M594.35,214.9L594.55,207.7M595.95,208.0L596.15,208.1M597.55,203.6L597.75,213.9M599.15,209.6L599.35,205.9M600.75,203.3L600.95,210.8M602.35,208.8L602.55,203.0M603.95,207.5L604.15,206.3M605.55,207.6L605.75,199.4M607.15,203.1L607.35,206.5M608.75,206.0L608.95,199.8M610.35,208.0L610.55,207.2M611.95,210.0L612.15,201.7M613.55,209.0L613.75,205.6M615.15,201.3L615.35,204.3M616.75,214.2L616.95,209.4M618.35,209.3L618.55,210.7M619.95,204.0L620.15,205.6M621.55,197.6L621.75,199.9M623.15,206.7L623.35,206.3M624.75,202.3L624.95,196.4M626.35,197.6L626.55,199.3M627.95,202.1L628.15,192.0M629.55,195.1L629.75,193.7M631.15,198.7L631.35,198.6M632.75,201.7L632.95,196.9M634.35,196.4L634.55,193.8M635.95,199.3L636.15,194.1M637.55,198.0L637.75,192.5M639.15,202.6L639.35,203.4M640.75,197.0L640.95,194.2M642.35,192.4L642.55,193.7M643.95,195.4L644.15,193.0M645.55,200.6L645.75,190.9M647.15,195.5L647.35,189.3M648.75,197.9L648.95,190.6M650.35,197.8L650.55,190.5M651.95,197.2L652.15,201.0M653.55,193.2L653.75,192.8" fill="none" stroke="#3000ff" stroke-opacity="0.62" stroke-width="1.1" stroke-linecap="round"/>
<path d="M400.95,233.2L401.15,234.1M402.55,235.3L402.75,237.7M404.15,233.2L404.35,238.6M405.75,234.3L405.95,236.6M407.35,241.1L407.55,241.9M408.95,244.9L409.15,234.6M410.55,238.9L410.75,231.9M412.15,195.5L412.35,194.4M413.75,200.5L413.95,196.1M415.35,204.6L415.55,206.4M416.95,209.1L417.15,213.3M418.55,212.2L418.75,207.5M420.15,205.8L420.35,207.0M421.75,208.4L421.95,207.8M423.35,218.2L423.55,217.9M424.95,218.4L425.15,220.2M426.55,220.1L426.75,226.0M428.15,229.1L428.35,226.6M429.75,232.1L429.95,228.9M431.35,229.8L431.55,230.9M432.95,235.0L433.15,237.2M434.55,246.1L434.75,238.4M436.15,236.9L436.35,237.6M437.75,229.7L437.95,228.5M439.35,220.3L439.55,219.5M440.95,212.1L441.15,214.2M442.55,213.9L442.75,218.5M444.15,218.3L444.35,224.8M445.75,218.8L445.95,221.6M447.35,221.7L447.55,218.8M448.95,217.5L449.15,218.3M450.55,220.9L450.75,226.5M452.15,227.6L452.35,223.9M453.75,223.8L453.95,228.1M455.35,227.0L455.55,230.5M456.95,224.5L457.15,228.0M458.55,222.3L458.75,219.1M460.15,221.7L460.35,217.1M461.75,228.6L461.95,228.5M463.35,230.2L463.55,232.5M464.95,228.3L465.15,228.7M466.55,235.5L466.75,231.5M468.15,228.5L468.35,235.2M469.75,226.1L469.95,228.3M471.35,227.6L471.55,227.5M472.95,228.6L473.15,227.0M474.55,224.9L474.75,223.8M476.15,234.2L476.35,234.3M477.75,235.5L477.95,235.6M479.35,235.5L479.55,238.6M480.95,231.4L481.15,236.8M482.55,231.0L482.75,231.5M484.15,228.4L484.35,228.9M485.75,225.3L485.95,225.0M487.35,231.6L487.55,233.3M488.95,231.2L489.15,228.7M490.55,230.8L490.75,235.5M492.15,235.6L492.35,236.1M493.75,233.7L493.95,228.6M495.35,237.4L495.55,237.2M496.95,227.1L497.15,234.7M498.55,223.4L498.75,231.0M500.15,223.8L500.35,230.4M501.75,222.8L501.95,226.0M503.35,227.5L503.55,231.7M504.95,225.9L505.15,230.5M506.55,232.9L506.75,225.6M508.15,227.6L508.35,229.6M509.75,224.4L509.95,227.5M511.35,220.0L511.55,224.8M512.95,220.3L513.15,224.8M514.55,221.4L514.75,216.2M516.15,211.7L516.35,216.1M517.75,213.0L517.95,218.1M519.35,210.8L519.55,216.3M520.95,215.2L521.15,215.5M522.55,218.4L522.75,222.6M524.15,219.8L524.35,219.8M525.75,224.1L525.95,227.4M527.35,223.7L527.55,228.4M528.95,220.5L529.15,227.5M530.55,227.0L530.75,229.8M532.15,217.5L532.35,219.1M533.75,222.7L533.95,220.4M535.35,221.2L535.55,217.6M536.95,213.7L537.15,222.5M538.55,220.3L538.75,227.0M540.15,226.4L540.35,217.2M541.75,219.4L541.95,221.4M543.35,218.8L543.55,225.1M544.95,222.2L545.15,214.8M546.55,225.7L546.75,223.0M548.15,224.6L548.35,224.4M549.75,217.3L549.95,219.6M551.35,225.0L551.55,221.9M552.95,215.3L553.15,220.5M554.55,218.8L554.75,224.7M556.15,218.0L556.35,225.6M557.75,215.4L557.95,222.6M559.35,216.7L559.55,214.9M560.95,215.5L561.15,217.4M562.55,217.0L562.75,219.3M564.15,218.3L564.35,222.6M565.75,215.1L565.95,215.5M567.35,212.6L567.55,225.4M568.95,214.2L569.15,220.0M570.55,215.2L570.75,218.6M572.15,210.9L572.35,217.2M573.75,222.0L573.95,217.5M575.35,211.6L575.55,214.0M576.95,218.6L577.15,218.6M578.55,210.9L578.75,214.3M580.15,211.2L580.35,216.4M581.75,212.1L581.95,216.9M583.35,211.2L583.55,213.2M584.95,213.7L585.15,212.2M586.55,212.4L586.75,211.7M588.15,212.0L588.35,215.3M589.75,209.2L589.95,207.5M591.35,207.8L591.55,211.8M592.95,209.8L593.15,213.8M594.55,207.7L594.75,212.9M596.15,208.1L596.35,209.7M597.75,213.9L597.95,212.5M599.35,205.9L599.55,208.2M600.95,210.8L601.15,212.7M602.55,203.0L602.75,210.1M604.15,206.3L604.35,201.4M605.75,199.4L605.95,204.3M607.35,206.5L607.55,202.4M608.95,199.8L609.15,199.4M610.55,207.2L610.75,203.3M612.15,201.7L612.35,209.6M613.75,205.6L613.95,205.7M615.35,204.3L615.55,205.4M616.95,209.4L617.15,209.3M618.55,210.7L618.75,212.2M620.15,205.6L620.35,203.4M621.75,199.9L621.95,197.0M623.35,206.3L623.55,197.8M624.95,196.4L625.15,197.8M626.55,199.3L626.75,197.9M628.15,192.0L628.35,195.6M629.75,193.7L629.95,195.9M631.35,198.6L631.55,190.7M632.95,196.9L633.15,199.1M634.55,193.8L634.75,197.7M636.15,194.1L636.35,196.6M637.75,192.5L637.95,201.4M639.35,203.4L639.55,203.5M640.95,194.2L641.15,203.3M642.55,193.7L642.75,201.7M644.15,193.0L644.35,202.9M645.75,190.9L645.95,197.2M647.35,189.3L647.55,202.1M648.95,190.6L649.15,196.5M650.55,190.5L650.75,188.5M652.15,201.0L652.35,201.2M653.75,192.8L653.95,197.2" fill="none" stroke="#3000ff" stroke-opacity="0.62" stroke-width="1.1" stroke-linecap="round"/>
<path d="M401.15,234.1L401.35,234.3M402.75,237.7L402.95,236.0M404.35,238.6L404.55,233.9M405.95,236.6L406.15,243.0M407.55,241.9L407.75,240.5M409.15,234.6L409.35,237.0M410.75,231.9L410.95,207.6M412.35,194.4L412.55,190.2M413.95,196.1L414.15,199.6M415.55,206.4L415.75,205.8M417.15,213.3L417.35,208.3M418.75,207.5L418.95,208.8M420.35,207.0L420.55,204.5M421.95,207.8L422.15,210.4M423.55,217.9L423.75,219.6M425.15,220.2L425.35,217.6M426.75,226.0L426.95,218.0M428.35,226.6L428.55,228.8M429.95,228.9L430.15,229.2M431.55,230.9L431.75,238.4M433.15,237.2L433.35,235.9M434.75,238.4L434.95,237.7M436.35,237.6L436.55,234.5M437.95,228.5L438.15,225.8M439.55,219.5L439.75,217.7M441.15,214.2L441.35,211.9M442.75,218.5L442.95,216.1M444.35,224.8L444.55,219.0M445.95,221.6L446.15,218.1M447.55,218.8L447.75,221.9M449.15,218.3L449.35,223.4M450.75,226.5L450.95,222.4M452.35,223.9L452.55,219.6M453.95,228.1L454.15,221.5M455.55,230.5L455.75,224.4M457.15,228.0L457.35,220.8M458.75,219.1L458.95,220.1M460.35,217.1L460.55,221.5M461.95,228.5L462.15,227.3M463.55,232.5L463.75,230.1M465.15,228.7L465.35,230.5M466.75,231.5L466.95,233.1M468.35,235.2L468.55,226.9M469.95,228.3L470.15,225.2M471.55,227.5L471.75,225.8M473.15,227.0L473.35,223.3M474.75,223.8L474.95,227.0M476.35,234.3L476.55,231.9M477.95,235.6L478.15,232.2M479.55,238.6L479.75,236.0M481.15,236.8L481.35,230.4M482.75,231.5L482.95,228.7M484.35,228.9L484.55,229.2M485.95,225.0L486.15,227.6M487.55,233.3L487.75,230.0M489.15,228.7L489.35,232.3M490.75,235.5L490.95,231.4M492.35,236.1L492.55,232.5M493.95,228.6L494.15,230.9M495.55,237.2L495.75,227.3M497.15,234.7L497.35,225.0M498.75,231.0L498.95,226.4M500.35,230.4L500.55,229.2M501.95,226.0L502.15,226.3M503.55,231.7L503.75,232.4M505.15,230.5L505.35,228.3M506.75,225.6L506.95,226.3M508.35,229.6L508.55,224.8M509.95,227.5L510.15,227.3M511.55,224.8L511.75,219.5M513.15,224.8L513.35,217.5M514.75,216.2L514.95,214.9M516.35,216.1L516.55,215.2M517.95,218.1L518.15,212.9M519.55,216.3L519.75,213.5M521.15,215.5L521.35,218.4M522.75,222.6L522.95,220.4M524.35,219.8L524.55,220.1M525.95,227.4L526.15,224.7M527.55,228.4L527.75,227.0M529.15,227.5L529.35,221.9M530.75,229.8L530.95,218.8M532.35,219.1L532.55,222.3M533.95,220.4L534.15,227.5M535.55,217.6L535.75,224.2M537.15,222.5L537.35,219.7M538.75,227.0L538.95,218.9M540.35,217.2L540.55,219.6M541.95,221.4L542.15,215.9M543.55,225.1L543.75,214.5M545.15,214.8L545.35,218.5M546.75,223.0L546.95,216.2M548.35,224.4L548.55,219.8M549.95,219.6L550.15,224.9M551.55,221.9L551.75,214.7M553.15,220.5L553.35,221.6M554.75,224.7L554.95,214.0M556.35,225.6L556.55,219.1M557.95,222.6L558.15,214.7M559.55,214.9L559.75,219.6M561.15,217.4L561.35,218.7M562.75,219.3L562.95,213.5M564.35,222.6L564.55,217.6M565.95,215.5L566.15,220.1M567.55,225.4L567.75,216.1M569.15,220.0L569.35,215.6M570.75,218.6L570.95,217.7M572.35,217.2L572.55,219.1M573.95,217.5L574.15,213.1M575.55,214.0L575.75,214.8M577.15,218.6L577.35,211.0M578.75,214.3L578.95,216.9M580.35,216.4L580.55,217.7M581.95,216.9L582.15,211.4M583.55,213.2L583.75,210.2M585.15,212.2L585.35,211.6M586.75,211.7L586.95,210.9M588.35,215.3L588.55,211.4M589.95,207.5L590.15,215.9M591.55,211.8L591.75,211.5M593.15,213.8L593.35,215.3M594.75,212.9L594.95,210.6M596.35,209.7L596.55,212.6M597.95,212.5L598.15,205.8M599.55,208.2L599.75,204.2M601.15,212.7L601.35,205.0M602.75,210.1L602.95,207.7M604.35,201.4L604.55,205.4M605.95,204.3L606.15,198.7M607.55,202.4L607.75,197.6M609.15,199.4L609.35,199.7M610.75,203.3L610.95,203.5M612.35,209.6L612.55,203.2M613.95,205.7L614.15,202.3M615.55,205.4L615.75,202.5M617.15,209.3L617.35,211.7M618.75,212.2L618.95,212.2M620.35,203.4L620.55,204.8M621.95,197.0L622.15,202.2M623.55,197.8L623.75,198.7M625.15,197.8L625.35,193.3M626.75,197.9L626.95,196.2M628.35,195.6L628.55,199.7M629.95,195.9L630.15,194.2M631.55,190.7L631.75,191.6M633.15,199.1L633.35,190.9M634.75,197.7L634.95,195.4M636.35,196.6L636.55,194.0M637.95,201.4L638.15,192.4M639.55,203.5L639.75,198.0M641.15,203.3L641.35,198.0M642.75,201.7L642.95,195.2M644.35,202.9L644.55,193.0M645.95,197.2L646.15,194.6M647.55,202.1L647.75,195.6M649.15,196.5L649.35,191.1M650.75,188.5L650.95,194.6M652.35,201.2L652.55,200.2" fill="none" stroke="#3000ff" stroke-opacity="0.62" stroke-width="1.1" stroke-linecap="round"/>
<path d="M401.35,234.3L401.55,237.1M402.95,236.0L403.15,237.2M404.55,233.9L404.75,239.3M406.15,243.0L406.35,239.6M407.75,240.5L407.95,243.4M409.35,237.0L409.55,242.6M410.95,207.6L411.15,220.8M412.55,190.2L412.75,190.3M414.15,199.6L414.35,204.0M415.75,205.8L415.95,206.8M417.35,208.3L417.55,215.0M418.95,208.8L419.15,211.3M420.55,204.5L420.75,205.9M422.15,210.4L422.35,213.8M423.75,219.6L423.95,219.2M425.35,217.6L425.55,221.3M426.95,218.0L427.15,225.0M428.55,228.8L428.75,227.5M430.15,229.2L430.35,231.8M431.75,238.4L431.95,234.4M433.35,235.9L433.55,238.0M434.95,237.7L435.15,239.6M436.55,234.5L436.75,237.4M438.15,225.8L438.35,225.8M439.75,217.7L439.95,219.1M441.35,211.9L441.55,216.0M442.95,216.1L443.15,221.2M444.55,219.0L444.75,222.5M446.15,218.1L446.35,222.8M447.75,221.9L447.95,218.3M449.35,223.4L449.55,224.7M450.95,222.4L451.15,221.4M452.55,219.6L452.75,225.8M454.15,221.5L454.35,227.8M455.75,224.4L455.95,222.0M457.35,220.8L457.55,220.1M458.95,220.1L459.15,215.2M460.55,221.5L460.75,223.5M462.15,227.3L462.35,228.2M463.75,230.1L463.95,227.8M465.35,230.5L465.55,230.5M466.95,233.1L467.15,234.7M468.55,226.9L468.75,234.1M470.15,225.2L470.35,229.7M471.75,225.8L471.95,226.4M473.35,223.3L473.55,229.2M474.95,227.0L475.15,232.6M476.55,231.9L476.75,235.3M478.15,232.2L478.35,234.0M479.75,236.0L479.95,239.1M481.35,230.4L481.55,229.9M482.95,228.7L483.15,230.6M484.55,229.2L484.75,229.1M486.15,227.6L486.35,227.9M487.75,230.0L487.95,231.4M489.35,232.3L489.55,233.0M490.95,231.4L491.15,234.4M492.55,232.5L492.75,237.1M494.15,230.9L494.35,235.4M495.75,227.3L495.95,234.0M497.35,225.0L497.55,234.2M498.95,226.4L499.15,225.8M500.55,229.2L500.75,231.8M502.15,226.3L502.35,232.7M503.75,232.4L503.95,226.4M505.35,228.3L505.55,229.3M506.95,226.3L507.15,229.5M508.55,224.8L508.75,228.2M510.15,227.3L510.35,225.6M511.75,219.5L511.95,223.9M513.35,217.5L513.55,223.6M514.95,214.9L515.15,220.0M516.55,215.2L516.75,217.0M518.15,212.9L518.35,212.0M519.75,213.5L519.95,210.4M521.35,218.4L521.55,218.0M522.95,220.4L523.15,218.4M524.55,220.1L524.75,223.6M526.15,224.7L526.35,228.0M527.75,227.0L527.95,230.7M529.35,221.9L529.55,229.8M530.95,218.8L531.15,230.2M532.55,222.3L532.75,220.5M534.15,227.5L534.35,229.7M535.75,224.2L535.95,227.3M537.35,219.7L537.55,220.7M538.95,218.9L539.15,213.7M540.55,219.6L540.75,216.3M542.15,215.9L542.35,217.8M543.75,214.5L543.95,225.7M545.35,218.5L545.55,215.1M546.95,216.2L547.15,214.0M548.55,219.8L548.75,219.2M550.15,224.9L550.35,223.1M551.75,214.7L551.95,213.3M553.35,221.6L553.55,214.0M554.95,214.0L555.15,224.4M556.55,219.1L556.75,217.8M558.15,214.7L558.35,214.2M559.75,219.6L559.95,222.3M561.35,218.7L561.55,222.3M562.95,213.5L563.15,220.4M564.55,217.6L564.75,216.3M566.15,220.1L566.35,220.1M567.75,216.1L567.95,221.1M569.35,215.6L569.55,220.2M570.95,217.7L571.15,215.8M572.55,219.1L572.75,218.0M574.15,213.1L574.35,211.6M575.75,214.8L575.95,222.0M577.35,211.0L577.55,217.8M578.95,216.9L579.15,216.5M580.55,217.7L580.75,215.1M582.15,211.4L582.35,213.1M583.75,210.2L583.95,216.8M585.35,211.6L585.55,217.8M586.95,210.9L587.15,214.4M588.55,211.4L588.75,216.1M590.15,215.9L590.35,214.8M591.75,211.5L591.95,213.2M593.35,215.3L593.55,213.8M594.95,210.6L595.15,212.7M596.55,212.6L596.75,212.2M598.15,205.8L598.35,206.6M599.75,204.2L599.95,213.6M601.35,205.0L601.55,210.8M602.95,207.7L603.15,212.1M604.55,205.4L604.75,205.4M606.15,198.7L606.35,206.1M607.75,197.6L607.95,197.5M609.35,199.7L609.55,203.1M610.95,203.5L611.15,204.9M612.55,203.2L612.75,201.7M614.15,202.3L614.35,211.5M615.75,202.5L615.95,208.2M617.35,211.7L617.55,212.1M618.95,212.2L619.15,211.7M620.55,204.8L620.75,198.9M622.15,202.2L622.35,196.5M623.75,198.7L623.95,205.8M625.35,193.3L625.55,202.8M626.95,196.2L627.15,200.4M628.55,199.7L628.75,200.7M630.15,194.2L630.35,191.7M631.75,191.6L631.95,199.9M633.35,190.9L633.55,203.3M634.95,195.4L635.15,199.1M636.55,194.0L636.75,196.0M638.15,192.4L638.35,201.4M639.75,198.0L639.95,202.5M641.35,198.0L641.55,198.6M642.95,195.2L643.15,190.0M644.55,193.0L644.75,200.9M646.15,194.6L646.35,194.6M647.75,195.6L647.95,196.0M649.35,191.1L649.55,195.6M650.95,194.6L651.15,200.2M652.55,200.2L652.75,196.0" fill="none" stroke="#3000ff" stroke-opacity="0.62" stroke-width="1.1" stroke-linecap="round"/>
<path d="M401.55,237.1L401.75,236.3M403.15,237.2L403.35,235.4M404.75,239.3L404.95,240.1M406.35,239.6L406.55,241.1M407.95,243.4L408.15,237.6M409.55,242.6L409.75,233.7M411.15,220.8L411.35,199.2M412.75,190.3L412.95,193.7M414.35,204.0L414.55,200.6M415.95,206.8L416.15,207.4M417.55,215.0L417.75,210.4M419.15,211.3L419.35,207.8M420.75,205.9L420.95,206.3M422.35,213.8L422.55,213.6M423.95,219.2L424.15,217.7M425.55,221.3L425.75,217.5M427.15,225.0L427.35,225.5M428.75,227.5L428.95,224.9M430.35,231.8L430.55,230.5M431.95,234.4L432.15,230.7M433.55,238.0L433.75,244.1M435.15,239.6L435.35,235.7M436.75,237.4L436.95,235.7M438.35,225.8L438.55,224.9M439.95,219.1L440.15,214.0M441.55,216.0L441.75,214.5M443.15,221.2L443.35,213.6M444.75,222.5L444.95,214.9M446.35,222.8L446.55,223.5M447.95,218.3L448.15,227.6M449.55,224.7L449.75,217.7M451.15,221.4L451.35,221.4M452.75,225.8L452.95,219.2M454.35,227.8L454.55,220.7M455.95,222.0L456.15,230.8M457.55,220.1L457.75,220.2M459.15,215.2L459.35,215.0M460.75,223.5L460.95,219.0M462.35,228.2L462.55,229.8M463.95,227.8L464.15,231.2M465.55,230.5L465.75,235.7M467.15,234.7L467.35,229.9M468.75,234.1L468.95,234.6M470.35,229.7L470.55,224.7M471.95,226.4L472.15,225.3M473.55,229.2L473.75,228.5M475.15,232.6L475.35,224.9M476.75,235.3L476.95,232.9M478.35,234.0L478.55,234.5M479.95,239.1L480.15,240.1M481.55,229.9L481.75,231.8M483.15,230.6L483.35,231.3M484.75,229.1L484.95,225.6M486.35,227.9L486.55,228.8M487.95,231.4L488.15,231.6M489.55,233.0L489.75,230.6M491.15,234.4L491.35,230.9M492.75,237.1L492.95,232.4M494.35,235.4L494.55,230.8M495.95,234.0L496.15,230.6M497.55,234.2L497.75,227.1M499.15,225.8L499.35,228.7M500.75,231.8L500.95,224.5M502.35,232.7L502.55,224.7M503.95,226.4L504.15,228.1M505.55,229.3L505.75,227.4M507.15,229.5L507.35,228.9M508.75,228.2L508.95,227.9M510.35,225.6L510.55,221.2M511.95,223.9L512.15,224.9M513.55,223.6L513.75,222.4M515.15,220.0L515.35,217.3M516.75,217.0L516.95,214.8M518.35,212.0L518.55,213.2M519.95,210.4L520.15,214.0M521.55,218.0L521.75,220.8M523.15,218.4L523.35,224.4M524.75,223.6L524.95,220.6M526.35,228.0L526.55,219.2M527.95,230.7L528.15,220.4M529.55,229.8L529.75,222.9M531.15,230.2L531.35,222.8M532.75,220.5L532.95,223.9M534.35,229.7L534.55,217.5M535.95,227.3L536.15,227.9M537.55,220.7L537.75,220.8M539.15,213.7L539.35,218.3M540.75,216.3L540.95,218.8M542.35,217.8L542.55,224.6M543.95,225.7L544.15,219.5M545.55,215.1L545.75,225.4M547.15,214.0L547.35,214.7M548.75,219.2L548.95,215.7M550.35,223.1L550.55,220.2M551.95,213.3L552.15,225.6M553.55,214.0L553.75,214.9M555.15,224.4L555.35,213.5M556.75,217.8L556.95,218.7M558.35,214.2L558.55,214.8M559.95,222.3L560.15,219.1M561.55,222.3L561.75,216.2M563.15,220.4L563.35,217.1M564.75,216.3L564.95,212.9M566.35,220.1L566.55,218.6M567.95,221.1L568.15,213.5M569.55,220.2L569.75,213.3M571.15,215.8L571.35,211.0M572.75,218.0L572.95,215.4M574.35,211.6L574.55,217.1M575.95,222.0L576.15,211.6M577.55,217.8L577.75,212.0M579.15,216.5L579.35,208.9M580.75,215.1L580.95,210.9M582.35,213.1L582.55,216.9M583.95,216.8L584.15,212.0M585.55,217.8L585.75,213.3M587.15,214.4L587.35,212.2M588.75,216.1L588.95,214.7M590.35,214.8L590.55,209.2M591.95,213.2L592.15,213.6M593.55,213.8L593.75,207.8M595.15,212.7L595.35,215.0M596.75,212.2L596.95,213.7M598.35,206.6L598.55,204.2M599.95,213.6L600.15,213.2M601.55,210.8L601.75,205.5M603.15,212.1L603.35,204.2M604.75,205.4L604.95,207.5M606.35,206.1L606.55,199.0M607.95,197.5L608.15,201.3M609.55,203.1L609.75,205.7M611.15,204.9L611.35,201.4M612.75,201.7L612.95,202.8M614.35,211.5L614.55,202.4M615.95,208.2L616.15,203.1M617.55,212.1L617.75,214.2M619.15,211.7L619.35,201.2M620.75,198.9L620.95,200.7M622.35,196.5L622.55,201.2M623.95,205.8L624.15,195.9M625.55,202.8L625.75,204.3M627.15,200.4L627.35,193.0M628.75,200.7L628.95,193.0M630.35,191.7L630.55,191.6M631.95,199.9L632.15,195.2M633.55,203.3L633.75,200.5M635.15,199.1L635.35,198.4M636.75,196.0L636.95,197.3M638.35,201.4L638.55,202.0M639.95,202.5L640.15,193.8M641.55,198.6L641.75,196.6M643.15,190.0L643.35,194.1M644.75,200.9L644.95,192.2M646.35,194.6L646.55,194.7M647.95,196.0L648.15,192.1M649.55,195.6L649.75,191.3M651.15,200.2L651.35,188.5M652.75,196.0L652.95,197.5" fill="none" stroke="#3000ff" stroke-opacity="0.62" stroke-width="1.1" stroke-linecap="round"/>
<path d="M400.15,233.3L400.35,230.9M401.75,236.3L401.95,230.7M403.35,235.4L403.55,240.8M404.95,240.1L405.15,238.9M406.55,241.1L406.75,244.0M408.15,237.6L408.35,243.0M409.75,233.7L409.95,235.4M411.35,199.2L411.55,195.7M412.95,193.7L413.15,200.5M414.55,200.6L414.75,204.7M416.15,207.4L416.35,209.3M417.75,210.4L417.95,216.1M419.35,207.8L419.55,211.6M420.95,206.3L421.15,204.1M422.55,213.6L422.75,217.6M424.15,217.7L424.35,221.1M425.75,217.5L425.95,220.5M427.35,225.5L427.55,223.7M428.95,224.9L429.15,223.9M430.55,230.5L430.75,232.1M432.15,230.7L432.35,237.7M433.75,244.1L433.95,234.1M435.35,235.7L435.55,242.5M436.95,235.7L437.15,236.6M438.55,224.9L438.75,226.2M440.15,214.0L440.35,213.9M441.75,214.5L441.95,211.4M443.35,213.6L443.55,214.0M444.95,214.9L445.15,219.6M446.55,223.5L446.75,224.4M448.15,227.6L448.35,223.1M449.75,217.7L449.95,224.2M451.35,221.4L451.55,221.9M452.95,219.2L453.15,219.1M454.55,220.7L454.75,230.4M456.15,230.8L456.35,224.4M457.75,220.2L457.95,226.0M459.35,215.0L459.55,216.7M460.95,219.0L461.15,226.2M462.55,229.8L462.75,225.9M464.15,231.2L464.35,231.8M465.75,235.7L465.95,234.4M467.35,229.9L467.55,231.9M468.95,234.6L469.15,231.8M470.55,224.7L470.75,230.7M472.15,225.3L472.35,228.9M473.75,228.5L473.95,230.4M475.35,224.9L475.55,229.4M476.95,232.9L477.15,230.1M478.55,234.5L478.75,239.4M480.15,240.1L480.35,235.7M481.75,231.8L481.95,233.8M483.35,231.3L483.55,232.9M484.95,225.6L485.15,224.2M486.55,228.8L486.75,230.5M488.15,231.6L488.35,235.5M489.75,230.6L489.95,236.7M491.35,230.9L491.55,235.3M492.95,232.4L493.15,238.6M494.55,230.8L494.75,234.7M496.15,230.6L496.35,236.3M497.75,227.1L497.95,231.9M499.35,228.7L499.55,227.0M500.95,224.5L501.15,231.7M502.55,224.7L502.75,223.3M504.15,228.1L504.35,229.9M505.75,227.4L505.95,232.3M507.35,228.9L507.55,234.0M508.95,227.9L509.15,227.8M510.55,221.2L510.75,226.8M512.15,224.9L512.35,225.3M513.75,222.4L513.95,222.9M515.35,217.3L515.55,222.2M516.95,214.8L517.15,214.8M518.55,213.2L518.75,216.9M520.15,214.0L520.35,215.3M521.75,220.8L521.95,213.0M523.35,224.4L523.55,221.9M524.95,220.6L525.15,224.5M526.55,219.2L526.75,222.8M528.15,220.4L528.35,225.2M529.75,222.9L529.95,232.2M531.35,222.8L531.55,231.3M532.95,223.9L533.15,217.9M534.55,217.5L534.75,225.5M536.15,227.9L536.35,220.3M537.75,220.8L537.95,219.7M539.35,218.3L539.55,226.5M540.95,218.8L541.15,227.4M542.55,224.6L542.75,226.5M544.15,219.5L544.35,215.6M545.75,225.4L545.95,225.5M547.35,214.7L547.55,220.6M548.95,215.7L549.15,220.0M550.55,220.2L550.75,217.6M552.15,225.6L552.35,223.5M553.75,214.9L553.95,224.6M555.35,213.5L555.55,224.9M556.95,218.7L557.15,222.2M558.55,214.8L558.75,215.1M560.15,219.1L560.35,223.1M561.75,216.2L561.95,215.8M563.35,217.1L563.55,216.8M564.95,212.9L565.15,219.0M566.55,218.6L566.75,221.0M568.15,213.5L568.35,222.5M569.75,213.3L569.95,217.4M571.35,211.0L571.55,215.2M572.95,215.4L573.15,220.4M574.55,217.1L574.75,218.4M576.15,211.6L576.35,220.1M577.75,212.0L577.95,209.9M579.35,208.9L579.55,208.7M580.95,210.9L581.15,216.1M582.55,216.9L582.75,213.1M584.15,212.0L584.35,212.7M585.75,213.3L585.95,215.9M587.35,212.2L587.55,211.1M588.95,214.7L589.15,208.3M590.55,209.2L590.75,209.9M592.15,213.6L592.35,206.8M593.75,207.8L593.95,208.0M595.35,215.0L595.55,211.1M596.95,213.7L597.15,211.6M598.55,204.2L598.75,211.4M600.15,213.2L600.35,210.3M601.75,205.5L601.95,209.4M603.35,204.2L603.55,210.3M604.95,207.5L605.15,205.4M606.55,199.0L606.75,204.2M608.15,201.3L608.35,205.7M609.75,205.7L609.95,207.6M611.35,201.4L611.55,202.0M612.95,202.8L613.15,207.3M614.55,202.4L614.75,207.5M616.15,203.1L616.35,212.5M617.75,214.2L617.95,209.6M619.35,201.2L619.55,206.3M620.95,200.7L621.15,207.9M622.55,201.2L622.75,198.8M624.15,195.9L624.35,198.0M625.75,204.3L625.95,200.3M627.35,193.0L627.55,202.7M628.95,193.0L629.15,197.9M630.55,191.6L630.75,200.8M632.15,195.2L632.35,193.9M633.75,200.5L633.95,202.7M635.35,198.4L635.55,192.8M636.95,197.3L637.15,201.5M638.55,202.0L638.75,198.8M640.15,193.8L640.35,200.3M641.75,196.6L641.95,198.0M643.35,194.1L643.55,196.9M644.95,192.2L645.15,198.7M646.55,194.7L646.75,200.5M648.15,192.1L648.35,199.0M649.75,191.3L649.95,196.6M651.35,188.5L651.55,202.4M652.95,197.5L653.15,200.6" fill="none" stroke="#3000ff" stroke-opacity="0.62" stroke-width="1.1" stroke-linecap="round"/>
<path d="M400.35,230.9L400.55,233.4M401.95,230.7L402.15,238.3M403.55,240.8L403.75,232.6M405.15,238.9L405.35,234.8M406.75,244.0L406.95,237.3M408.35,243.0L408.55,237.8M409.95,235.4L410.15,235.6M411.55,195.7L411.75,197.5M413.15,200.5L413.35,197.2M414.75,204.7L414.95,206.0M416.35,209.3L416.55,210.6M417.95,216.1L418.15,208.7M419.55,211.6L419.75,207.5M421.15,204.1L421.35,206.1M422.75,217.6L422.95,214.3M424.35,221.1L424.55,214.9M425.95,220.5L426.15,217.9M427.55,223.7L427.75,223.0M429.15,223.9L429.35,229.9M430.75,232.1L430.95,227.3M432.35,237.7L432.55,241.0M433.95,234.1L434.15,244.1M435.55,242.5L435.75,235.0M437.15,236.6L437.35,232.2M438.75,226.2L438.95,224.8M440.35,213.9L440.55,215.9M441.95,211.4L442.15,212.6M443.55,214.0L443.75,218.1M445.15,219.6L445.35,216.6M446.75,224.4L446.95,220.5M448.35,223.1L448.55,218.0M449.95,224.2L450.15,220.3M451.55,221.9L451.75,218.6M453.15,219.1L453.35,227.9M454.75,230.4L454.95,230.4M456.35,224.4L456.55,223.2M457.95,226.0L458.15,221.0M459.55,216.7L459.75,218.3M461.15,226.2L461.35,226.3M462.75,225.9L462.95,226.8M464.35,231.8L464.55,230.2M465.95,234.4L466.15,234.6M467.55,231.9L467.75,228.5M469.15,231.8L469.35,228.0M470.75,230.7L470.95,229.3M472.35,228.9L472.55,222.4M473.95,230.4L474.15,229.7M475.55,229.4L475.75,227.5M477.15,230.1L477.35,230.0M478.75,239.4L478.95,239.4M480.35,235.7L480.55,235.4M481.95,233.8L482.15,233.4M483.55,232.9L483.75,226.1M485.15,224.2L485.35,231.4M486.75,230.5L486.95,228.9M488.35,235.5L488.55,232.2M489.95,236.7L490.15,233.5M491.55,235.3L491.75,231.1M493.15,238.6L493.35,232.6M494.75,234.7L494.95,228.0M496.35,236.3L496.55,227.7M497.95,231.9L498.15,226.7M499.55,227.0L499.75,224.6M501.15,231.7L501.35,226.3M502.75,223.3L502.95,226.8M504.35,229.9L504.55,232.3M505.95,232.3L506.15,224.9M507.55,234.0L507.75,226.0M509.15,227.8L509.35,226.1M510.75,226.8L510.95,223.8M512.35,225.3L512.55,222.9M513.95,222.9L514.15,217.6M515.55,222.2L515.75,212.9M517.15,214.8L517.35,213.7M518.75,216.9L518.95,208.7M520.35,215.3L520.55,216.1M521.95,213.0L522.15,217.3M523.55,221.9L523.75,218.6M525.15,224.5L525.35,223.6M526.75,222.8L526.95,230.6M528.35,225.2L528.55,224.9M529.95,232.2L530.15,230.8M531.55,231.3L531.75,222.6M533.15,217.9L533.35,221.2M534.75,225.5L534.95,217.3M536.35,220.3L536.55,222.6M537.95,219.7L538.15,214.0M539.55,226.5L539.75,214.4M541.15,227.4L541.35,215.6M542.75,226.5L542.95,214.8M544.35,215.6L544.55,214.5M545.95,225.5L546.15,215.9M547.55,220.6L547.75,218.0M549.15,220.0L549.35,221.9M550.75,217.6L550.95,217.3M552.35,223.5L552.55,222.5M553.95,224.6L554.15,218.6M555.55,224.9L555.75,220.5M557.15,222.2L557.35,218.8M558.75,215.1L558.95,215.2M560.35,223.1L560.55,215.4M561.95,215.8L562.15,220.6M563.55,216.8L563.75,218.1M565.15,219.0L565.35,216.9M566.75,221.0L566.95,216.3M568.35,222.5L568.55,224.7M569.95,217.4L570.15,218.6M571.55,215.2L571.75,216.0M573.15,220.4L573.35,220.3M574.75,218.4L574.95,213.8M576.35,220.1L576.55,221.5M577.95,209.9L578.15,211.0M579.55,208.7L579.75,210.1M581.15,216.1L581.35,211.2M582.75,213.1L582.95,210.3M584.35,212.7L584.55,211.3M585.95,215.9L586.15,209.5M587.55,211.1L587.75,218.0M589.15,208.3L589.35,211.8M590.75,209.9L590.95,211.4M592.35,206.8L592.55,210.3M593.95,208.0L594.15,212.0M595.55,211.1L595.75,213.7M597.15,211.6L597.35,211.3M598.75,211.4L598.95,213.6M600.35,210.3L600.55,207.3M601.95,209.4L602.15,208.6M603.55,210.3L603.75,204.2M605.15,205.4L605.35,204.6M606.75,204.2L606.95,202.8M608.35,205.7L608.55,200.1M609.95,207.6L610.15,203.1M611.55,202.0L611.75,209.0M613.15,207.3L613.35,210.8M614.75,207.5L614.95,212.2M616.35,212.5L616.55,205.2M617.95,209.6L618.15,203.9M619.55,206.3L619.75,206.5M621.15,207.9L621.35,207.8M622.75,198.8L622.95,199.1M624.35,198.0L624.55,194.5M625.95,200.3L626.15,195.0M627.55,202.7L627.75,192.0M629.15,197.9L629.35,192.2M630.75,200.8L630.95,199.8M632.35,193.9L632.55,203.2M633.95,202.7L634.15,197.5M635.55,192.8L635.75,194.2M637.15,201.5L637.35,189.7M638.75,198.8L638.95,191.4M640.35,200.3L640.55,195.8M641.95,198.0L642.15,196.1M643.55,196.9L643.75,190.9M645.15,198.7L645.35,196.5M646.75,200.5L646.95,192.6M648.35,199.0L648.55,192.7M649.95,196.6L650.15,188.4M651.55,202.4L651.75,190.4M653.15,200.6L653.35,195.5" fill="none" stroke="#3000ff" stroke-opacity="0.62" stroke-width="1.1" stroke-linecap="round"/>
<path d="M248.5,201.3 L248.5,176.8 M319.0,198.9 L319.0,188.3 M326.5,203.3 L326.5,194.1 M340.5,184.8 L340.5,176.6 M345.0,187.6 L345.0,180.9 M351.0,188.8 L351.0,182.4 M355.5,194.9 L355.5,186.0 M363.0,208.2 L363.0,202.7 M370.5,210.2 L370.5,202.7 M376.0,209.8 L376.0,204.6 M390.0,227.8 L390.0,217.7 M457.5,222.6 L457.5,210.1 M460.5,218.3 L460.5,207.4 M469.0,229.2 L469.0,222.6 M473.3,226.8 L473.3,184.0 M480.3,235.7 L480.3,154.7 M484.5,227.5 L484.5,214.5 M486.8,229.9 L486.8,216.6 M495.5,232.3 L495.5,206.8 M500.0,227.1 L500.0,218.3 M504.5,228.2 L504.5,218.3 M515.3,218.0 L515.3,198.2 M518.0,212.9 L518.0,205.2 M570.5,214.8 L570.5,205.0 M582.0,213.2 L582.0,204.5 M593.0,211.1 L593.0,200.1 M607.5,202.1 L607.5,193.4 M631.0,195.9 L631.0,189.0 M636.5,194.8 L636.5,185.4 " fill="none" stroke="#3000ff" stroke-opacity="0.45" stroke-width="1.4"/>
<circle cx="153.5" cy="160.6" r="1.6" fill="#e01438"/>
<text x="153.5" y="141.2" font-size="7.4" fill="#ff1a1a" stroke="#ff1a1a" stroke-width="0.12" text-anchor="middle" font-family="Liberation Sans, sans-serif">M1</text>
<circle cx="188.3" cy="169.9" r="1.6" fill="#e01438"/>
<text x="188.3" y="150.5" font-size="7.4" fill="#ff1a1a" stroke="#ff1a1a" stroke-width="0.12" text-anchor="middle" font-family="Liberation Sans, sans-serif">M2</text>
<circle cx="202.1" cy="172.2" r="1.6" fill="#e01438"/>
<text x="202.1" y="152.8" font-size="7.4" fill="#ff1a1a" stroke="#ff1a1a" stroke-width="0.12" text-anchor="middle" font-family="Liberation Sans, sans-serif">M3</text>
<circle cx="229.2" cy="162.5" r="1.6" fill="#e01438"/>
<text x="229.2" y="143.1" font-size="7.4" fill="#ff1a1a" stroke="#ff1a1a" stroke-width="0.12" text-anchor="middle" font-family="Liberation Sans, sans-serif">M4</text>
<circle cx="267.0" cy="155.3" r="1.6" fill="#e01438"/>
<text x="267.0" y="135.9" font-size="7.4" fill="#ff1a1a" stroke="#ff1a1a" stroke-width="0.12" text-anchor="middle" font-family="Liberation Sans, sans-serif">M5</text>
<rect x="6" y="371.2" width="648" height="2.6" fill="#cbcbcb"/>
<line x1="8.0" y1="383.9" x2="670.0" y2="383.9" stroke="#333" stroke-width="1.5"/>
<line x1="8.0" y1="428.1" x2="670.0" y2="428.1" stroke="#1a1a1a" stroke-width="1.2"/>
<line x1="8.0" y1="450.2" x2="670.0" y2="450.2" stroke="#1a1a1a" stroke-width="1.2"/>
<line x1="8.0" y1="472.3" x2="670.0" y2="472.3" stroke="#1a1a1a" stroke-width="1.2"/>
<line x1="8.0" y1="494.3" x2="670.0" y2="494.3" stroke="#1a1a1a" stroke-width="1.2"/>
<line x1="8.0" y1="516.4" x2="670.0" y2="516.4" stroke="#1a1a1a" stroke-width="1.2"/>
<line x1="8.0" y1="538.5" x2="670.0" y2="538.5" stroke="#333" stroke-width="1.5"/>
<line x1="8.7" y1="383.9" x2="8.7" y2="538.5" stroke="#555" stroke-width="1.5"/>
<line x1="47.2" y1="383.9" x2="47.2" y2="538.5" stroke="#1a1a1a" stroke-width="1.2"/>
<line x1="117.7" y1="383.9" x2="117.7" y2="538.5" stroke="#1a1a1a" stroke-width="1.2"/>
<line x1="188.0" y1="383.9" x2="188.0" y2="538.5" stroke="#1a1a1a" stroke-width="1.2"/>
<line x1="238.5" y1="383.9" x2="238.5" y2="538.5" stroke="#1a1a1a" stroke-width="1.2"/>
<line x1="307.8" y1="383.9" x2="307.8" y2="538.5" stroke="#1a1a1a" stroke-width="1.2"/>
<line x1="378.0" y1="383.9" x2="378.0" y2="538.5" stroke="#1a1a1a" stroke-width="1.2"/>
<line x1="436.3" y1="383.9" x2="436.3" y2="538.5" stroke="#1a1a1a" stroke-width="1.2"/>
<line x1="494.7" y1="383.9" x2="494.7" y2="538.5" stroke="#1a1a1a" stroke-width="1.2"/>
<line x1="549.4" y1="383.9" x2="549.4" y2="538.5" stroke="#1a1a1a" stroke-width="1.2"/>
<line x1="618.6" y1="383.9" x2="618.6" y2="538.5" stroke="#1a1a1a" stroke-width="1.2"/>
<line x1="669.3" y1="383.9" x2="669.3" y2="538.5" stroke="#555" stroke-width="1.5"/>
<text x="16.2" y="397.6" font-family="Liberation Sans, sans-serif" font-size="10.8" fill="#000" stroke="#000" stroke-width="0.2">No.</text>
<text x="54.7" y="397.6" font-family="Liberation Sans, sans-serif" font-size="10.8" fill="#000" stroke="#000" stroke-width="0.2">Frequency</text>
<text x="54.7" y="419.9" font-family="Liberation Sans, sans-serif" font-size="10.8" fill="#000" stroke="#000" stroke-width="0.2">(MHz)</text>
<text x="125.2" y="397.6" font-family="Liberation Sans, sans-serif" font-size="10.8" fill="#000" stroke="#000" stroke-width="0.2">Results</text>
<text x="125.2" y="419.9" font-family="Liberation Sans, sans-serif" font-size="10.8" fill="#000" stroke="#000" stroke-width="0.2">(dBuV/m)</text>
<text x="194.4" y="397.6" font-family="Liberation Sans, sans-serif" font-size="10.8" fill="#000" stroke="#000" stroke-width="0.2">Factor</text>
<text x="194.4" y="419.9" font-family="Liberation Sans, sans-serif" font-size="10.8" fill="#000" stroke="#000" stroke-width="0.2">(dB)</text>
<text x="244.6" y="397.6" font-family="Liberation Sans, sans-serif" font-size="10.8" fill="#000" stroke="#000" stroke-width="0.2">Limit</text>
<text x="244.6" y="419.9" font-family="Liberation Sans, sans-serif" font-size="10.8" fill="#000" stroke="#000" stroke-width="0.2">(dBuV/m)</text>
<text x="314.7" y="397.6" font-family="Liberation Sans, sans-serif" font-size="10.8" fill="#000" stroke="#000" stroke-width="0.2">Over Limit</text>
<text x="314.7" y="419.9" font-family="Liberation Sans, sans-serif" font-size="10.8" fill="#000" stroke="#000" stroke-width="0.2">(dB)</text>
<text x="385.1" y="397.6" font-family="Liberation Sans, sans-serif" font-size="10.8" fill="#000" stroke="#000" stroke-width="0.2">Detector</text>
<text x="443.8" y="397.6" font-family="Liberation Sans, sans-serif" font-size="10.8" fill="#000" stroke="#000" stroke-width="0.2">Table</text>
<text x="443.8" y="419.9" font-family="Liberation Sans, sans-serif" font-size="10.8" fill="#000" stroke="#000" stroke-width="0.2">(Degree)</text>
<text x="502.2" y="397.6" font-family="Liberation Sans, sans-serif" font-size="10.8" fill="#000" stroke="#000" stroke-width="0.2">Height</text>
<text x="502.2" y="419.9" font-family="Liberation Sans, sans-serif" font-size="10.8" fill="#000" stroke="#000" stroke-width="0.2">(cm)</text>
<text x="555.7" y="397.6" font-family="Liberation Sans, sans-serif" font-size="10.8" fill="#000" stroke="#000" stroke-width="0.2">Antenna</text>
<text x="626.1" y="397.6" font-family="Liberation Sans, sans-serif" font-size="10.8" fill="#000" stroke="#000" stroke-width="0.2">Verdict</text>
<text x="16.2" y="441.5" font-family="Liberation Sans, sans-serif" font-size="10.8" fill="#000" stroke="#000" stroke-width="0.2">1</text>
<text x="54.7" y="441.5" font-family="Liberation Sans, sans-serif" font-size="10.8" fill="#000" stroke="#000" stroke-width="0.2">59.093</text>
<text x="125.2" y="441.5" font-family="Liberation Sans, sans-serif" font-size="10.8" fill="#000" stroke="#000" stroke-width="0.2">37.84</text>
<text x="194.4" y="441.5" font-family="Liberation Sans, sans-serif" font-size="10.8" fill="#000" stroke="#000" stroke-width="0.2">-4.10</text>
<text x="244.6" y="441.5" font-family="Liberation Sans, sans-serif" font-size="10.8" fill="#000" stroke="#000" stroke-width="0.2">40.0</text>
<text x="314.7" y="441.5" font-family="Liberation Sans, sans-serif" font-size="10.8" fill="#000" stroke="#000" stroke-width="0.2">-2.16</text>
<text x="385.1" y="441.5" font-family="Liberation Sans, sans-serif" font-size="10.8" fill="#000" stroke="#000" stroke-width="0.2">Peak</text>
<text x="443.8" y="441.5" font-family="Liberation Sans, sans-serif" font-size="10.8" fill="#000" stroke="#000" stroke-width="0.2">150.00</text>
<text x="502.2" y="441.5" font-family="Liberation Sans, sans-serif" font-size="10.8" fill="#000" stroke="#000" stroke-width="0.2">100</text>
<text x="555.7" y="441.5" font-family="Liberation Sans, sans-serif" font-size="10.8" fill="#000" stroke="#000" stroke-width="0.2">Vertical</text>
<text x="626.1" y="441.5" font-family="Liberation Sans, sans-serif" font-size="10.8" fill="#000" stroke="#000" stroke-width="0.2">Pass</text>
<text x="16.2" y="463.6" font-family="Liberation Sans, sans-serif" font-size="10.8" fill="#000" stroke="#000" stroke-width="0.2">2</text>
<text x="54.7" y="463.6" font-family="Liberation Sans, sans-serif" font-size="10.8" fill="#000" stroke="#000" stroke-width="0.2">71.942</text>
<text x="125.2" y="463.6" font-family="Liberation Sans, sans-serif" font-size="10.8" fill="#000" stroke="#000" stroke-width="0.2">35.72</text>
<text x="194.4" y="463.6" font-family="Liberation Sans, sans-serif" font-size="10.8" fill="#000" stroke="#000" stroke-width="0.2">-6.47</text>
<text x="244.6" y="463.6" font-family="Liberation Sans, sans-serif" font-size="10.8" fill="#000" stroke="#000" stroke-width="0.2">40.0</text>
<text x="314.7" y="463.6" font-family="Liberation Sans, sans-serif" font-size="10.8" fill="#000" stroke="#000" stroke-width="0.2">-4.28</text>
<text x="385.1" y="463.6" font-family="Liberation Sans, sans-serif" font-size="10.8" fill="#000" stroke="#000" stroke-width="0.2">Peak</text>
<text x="443.8" y="463.6" font-family="Liberation Sans, sans-serif" font-size="10.8" fill="#000" stroke="#000" stroke-width="0.2">181.00</text>
<text x="502.2" y="463.6" font-family="Liberation Sans, sans-serif" font-size="10.8" fill="#000" stroke="#000" stroke-width="0.2">100</text>
<text x="555.7" y="463.6" font-family="Liberation Sans, sans-serif" font-size="10.8" fill="#000" stroke="#000" stroke-width="0.2">Vertical</text>
<text x="626.1" y="463.6" font-family="Liberation Sans, sans-serif" font-size="10.8" fill="#000" stroke="#000" stroke-width="0.2">Pass</text>
<text x="16.2" y="485.7" font-family="Liberation Sans, sans-serif" font-size="10.8" fill="#000" stroke="#000" stroke-width="0.2">3</text>
<text x="54.7" y="485.7" font-family="Liberation Sans, sans-serif" font-size="10.8" fill="#000" stroke="#000" stroke-width="0.2">77.761</text>
<text x="125.2" y="485.7" font-family="Liberation Sans, sans-serif" font-size="10.8" fill="#000" stroke="#000" stroke-width="0.2">35.20</text>
<text x="194.4" y="485.7" font-family="Liberation Sans, sans-serif" font-size="10.8" fill="#000" stroke="#000" stroke-width="0.2">-6.78</text>
<text x="244.6" y="485.7" font-family="Liberation Sans, sans-serif" font-size="10.8" fill="#000" stroke="#000" stroke-width="0.2">40.0</text>
<text x="314.7" y="485.7" font-family="Liberation Sans, sans-serif" font-size="10.8" fill="#000" stroke="#000" stroke-width="0.2">-4.80</text>
<text x="385.1" y="485.7" font-family="Liberation Sans, sans-serif" font-size="10.8" fill="#000" stroke="#000" stroke-width="0.2">Peak</text>
<text x="443.8" y="485.7" font-family="Liberation Sans, sans-serif" font-size="10.8" fill="#000" stroke="#000" stroke-width="0.2">1.00</text>
<text x="502.2" y="485.7" font-family="Liberation Sans, sans-serif" font-size="10.8" fill="#000" stroke="#000" stroke-width="0.2">100</text>
<text x="555.7" y="485.7" font-family="Liberation Sans, sans-serif" font-size="10.8" fill="#000" stroke="#000" stroke-width="0.2">Vertical</text>
<text x="626.1" y="485.7" font-family="Liberation Sans, sans-serif" font-size="10.8" fill="#000" stroke="#000" stroke-width="0.2">Pass</text>
<text x="16.2" y="507.7" font-family="Liberation Sans, sans-serif" font-size="10.8" fill="#000" stroke="#000" stroke-width="0.2">4</text>
<text x="54.7" y="507.7" font-family="Liberation Sans, sans-serif" font-size="10.8" fill="#000" stroke="#000" stroke-width="0.2">90.610</text>
<text x="125.2" y="507.7" font-family="Liberation Sans, sans-serif" font-size="10.8" fill="#000" stroke="#000" stroke-width="0.2">37.40</text>
<text x="194.4" y="507.7" font-family="Liberation Sans, sans-serif" font-size="10.8" fill="#000" stroke="#000" stroke-width="0.2">-6.34</text>
<text x="244.6" y="507.7" font-family="Liberation Sans, sans-serif" font-size="10.8" fill="#000" stroke="#000" stroke-width="0.2">40.0</text>
<text x="314.7" y="507.7" font-family="Liberation Sans, sans-serif" font-size="10.8" fill="#000" stroke="#000" stroke-width="0.2">-2.60</text>
<text x="385.1" y="507.7" font-family="Liberation Sans, sans-serif" font-size="10.8" fill="#000" stroke="#000" stroke-width="0.2">Peak</text>
<text x="443.8" y="507.7" font-family="Liberation Sans, sans-serif" font-size="10.8" fill="#000" stroke="#000" stroke-width="0.2">231.00</text>
<text x="502.2" y="507.7" font-family="Liberation Sans, sans-serif" font-size="10.8" fill="#000" stroke="#000" stroke-width="0.2">100</text>
<text x="555.7" y="507.7" font-family="Liberation Sans, sans-serif" font-size="10.8" fill="#000" stroke="#000" stroke-width="0.2">Vertical</text>
<text x="626.1" y="507.7" font-family="Liberation Sans, sans-serif" font-size="10.8" fill="#000" stroke="#000" stroke-width="0.2">Pass</text>
<text x="16.2" y="529.8" font-family="Liberation Sans, sans-serif" font-size="10.8" fill="#000" stroke="#000" stroke-width="0.2">5</text>
<text x="54.7" y="529.8" font-family="Liberation Sans, sans-serif" font-size="10.8" fill="#000" stroke="#000" stroke-width="0.2">112.187</text>
<text x="125.2" y="529.8" font-family="Liberation Sans, sans-serif" font-size="10.8" fill="#000" stroke="#000" stroke-width="0.2">39.06</text>
<text x="194.4" y="529.8" font-family="Liberation Sans, sans-serif" font-size="10.8" fill="#000" stroke="#000" stroke-width="0.2">-5.97</text>
<text x="244.6" y="529.8" font-family="Liberation Sans, sans-serif" font-size="10.8" fill="#000" stroke="#000" stroke-width="0.2">40.0</text>
<text x="314.7" y="529.8" font-family="Liberation Sans, sans-serif" font-size="10.8" fill="#000" stroke="#000" stroke-width="0.2">-0.94</text>
<text x="385.1" y="529.8" font-family="Liberation Sans, sans-serif" font-size="10.8" fill="#000" stroke="#000" stroke-width="0.2">Peak</text>
<text x="443.8" y="529.8" font-family="Liberation Sans, sans-serif" font-size="10.8" fill="#000" stroke="#000" stroke-width="0.2">196.00</text>
<text x="502.2" y="529.8" font-family="Liberation Sans, sans-serif" font-size="10.8" fill="#000" stroke="#000" stroke-width="0.2">100</text>
<text x="555.7" y="529.8" font-family="Liberation Sans, sans-serif" font-size="10.8" fill="#000" stroke="#000" stroke-width="0.2">Vertical</text>
<text x="626.1" y="529.8" font-family="Liberation Sans, sans-serif" font-size="10.8" fill="#000" stroke="#000" stroke-width="0.2">Pass</text>
<text x="530" y="519.5" font-family="Liberation Sans, Noto Sans CJK SC, sans-serif" font-weight="bold" font-size="25" fill="#999" fill-opacity="0.55" textLength="134" lengthAdjust="spacingAndGlyphs">嘉峪检测网</text>
<text x="531.6" y="537.7" font-family="Liberation Sans, sans-serif" font-weight="bold" font-style="italic" font-size="11.5" fill="#999" fill-opacity="0.5" textLength="131" lengthAdjust="spacingAndGlyphs">AnyTesting.com</text>
<g fill="#fff" fill-opacity="0.85" stroke="#555" stroke-width="0.7"><ellipse cx="539" cy="521" rx="8" ry="6.5"/><ellipse cx="548" cy="526" rx="7" ry="5.5"/></g>
<text x="560" y="528.5" font-family="Liberation Sans, Noto Sans CJK SC, sans-serif" font-size="14" fill="#fff" stroke="#444" stroke-width="0.9" paint-order="stroke" textLength="98" lengthAdjust="spacingAndGlyphs">韬略科技EMC</text>
</svg>
</body></html>
